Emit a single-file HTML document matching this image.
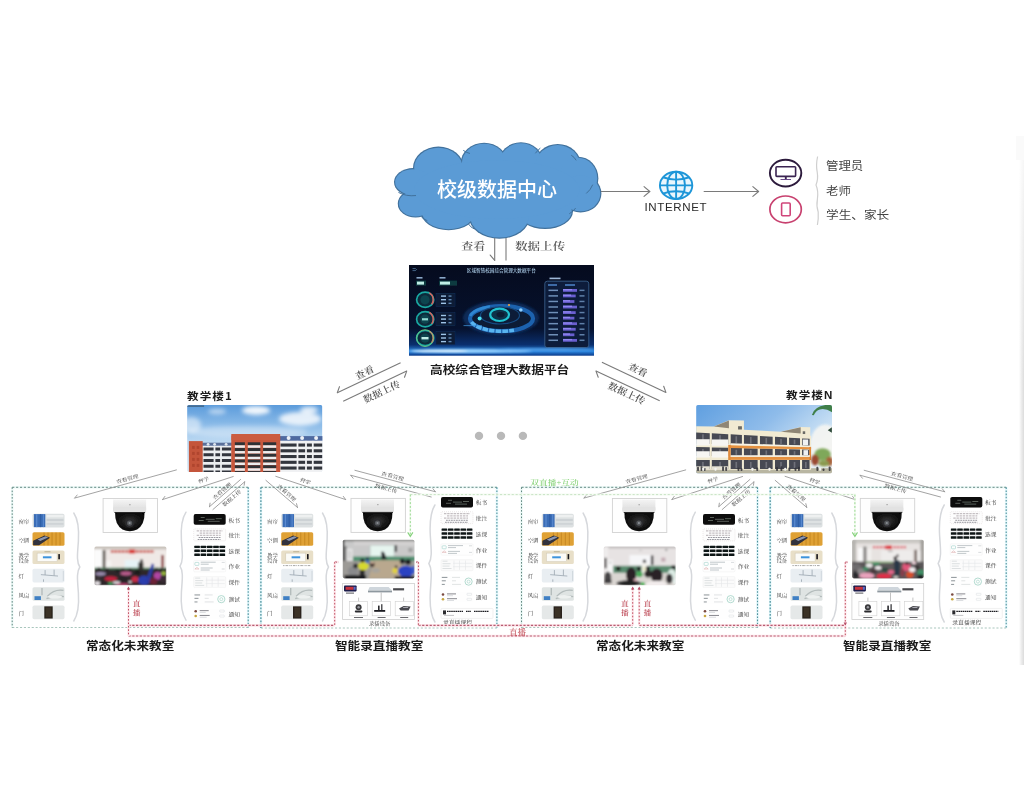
<!DOCTYPE html>
<html lang="zh-CN">
<head>
<meta charset="utf-8">
<title>高校综合管理大数据平台</title>
<style>
html,body{margin:0;padding:0;background:#fff;}
body{width:1024px;height:800px;position:relative;overflow:hidden;font-family:'Liberation Sans','Noto Sans CJK SC',sans-serif;}
#stage{position:absolute;left:0;top:0;width:1024px;height:800px;background:#fff;filter:blur(0.45px);}
svg{position:absolute;left:0;top:0;display:block;}
.t{position:absolute;white-space:nowrap;line-height:1;margin:0;padding:0;transform-origin:0 0;}
</style>
</head>
<body>
<div id="stage">
<svg width="1024" height="800" viewBox="0 0 1024 800">
<defs>
<linearGradient id="sky1" x1="0" y1="0" x2="0" y2="1"><stop offset="0" stop-color="#5b9bdb"/><stop offset="0.3" stop-color="#8bbbe8"/><stop offset="0.55" stop-color="#bcd9f2"/><stop offset="1" stop-color="#dcebf7"/></linearGradient>
<linearGradient id="sky2" x1="0" y1="0" x2="1" y2="0.6"><stop offset="0" stop-color="#5f9fe0"/><stop offset="0.5" stop-color="#8fbcea"/><stop offset="0.85" stop-color="#c9e0f4"/><stop offset="1" stop-color="#e8f0f6"/></linearGradient>
<linearGradient id="dashbg" x1="0" y1="0" x2="0" y2="1"><stop offset="0" stop-color="#050b1e"/><stop offset="0.7" stop-color="#06122e"/><stop offset="0.88" stop-color="#0a2f6e"/><stop offset="0.95" stop-color="#2a86e0"/><stop offset="1" stop-color="#0a3a8a"/></linearGradient>
<radialGradient id="eye" cx="0.5" cy="0.5" r="0.5"><stop offset="0" stop-color="#0a2a4a"/><stop offset="0.3" stop-color="#1fb6c8"/><stop offset="0.45" stop-color="#0e3a66"/><stop offset="0.75" stop-color="#2a7fc0"/><stop offset="1" stop-color="#0a2244" stop-opacity="0"/></radialGradient>
<linearGradient id="camw" x1="0" y1="0" x2="0" y2="1"><stop offset="0" stop-color="#f4f4f4"/><stop offset="1" stop-color="#d8d8d8"/></linearGradient>
<radialGradient id="camb" cx="0.5" cy="0.45" r="0.6"><stop offset="0" stop-color="#3a3a3a"/><stop offset="0.5" stop-color="#161616"/><stop offset="1" stop-color="#050505"/></radialGradient>
<filter id="b5"><feGaussianBlur stdDeviation="0.5"/></filter>
<filter id="b20"><feGaussianBlur stdDeviation="2"/></filter>
<filter id="bz"><feGaussianBlur stdDeviation="9"/></filter>
<filter id="bp" x="-5%" y="-5%" width="110%" height="110%"><feGaussianBlur stdDeviation="10"/></filter>
<filter id="b3"><feGaussianBlur stdDeviation="0.35"/></filter>
<filter id="b6"><feGaussianBlur stdDeviation="0.6"/></filter>
<filter id="b10"><feGaussianBlur stdDeviation="1"/></filter>
</defs>
<linearGradient id="edgeh" x1="0" y1="0" x2="1" y2="0"><stop offset="0" stop-color="#ffffff"/><stop offset="0.5" stop-color="#ececec"/><stop offset="1" stop-color="#dcdcdc"/></linearGradient>
<linearGradient id="edgev" x1="0" y1="0" x2="0" y2="1"><stop offset="0" stop-color="#fff" stop-opacity="0.75"/><stop offset="0.45" stop-color="#fff" stop-opacity="0"/><stop offset="1" stop-color="#fff" stop-opacity="0"/></linearGradient>
<rect x="1019" y="160" width="5" height="505" fill="url(#edgeh)"/><rect x="1019" y="160" width="5" height="505" fill="url(#edgev)"/><rect x="1016" y="136" width="8" height="24" fill="#fafafa"/>
<ellipse cx="438.4" cy="168.09" rx="25.39" ry="21.58" fill="#41719c"/>
<ellipse cx="484.1" cy="163.01" rx="23.36" ry="20.31" fill="#41719c"/>
<ellipse cx="520.92" cy="163.01" rx="22.34" ry="20.82" fill="#41719c"/>
<ellipse cx="557.73" cy="165.55" rx="23.36" ry="21.58" fill="#41719c"/>
<ellipse cx="578.05" cy="178.24" rx="20.31" ry="21.58" fill="#41719c"/>
<ellipse cx="580.59" cy="193.48" rx="20.82" ry="19.04" fill="#41719c"/>
<ellipse cx="545.04" cy="211.25" rx="27.93" ry="17.77" fill="#41719c"/>
<ellipse cx="499.34" cy="216.33" rx="30.47" ry="22.34" fill="#41719c"/>
<ellipse cx="448.55" cy="211.25" rx="27.93" ry="19.04" fill="#41719c"/>
<ellipse cx="415.55" cy="203.63" rx="17.77" ry="13.96" fill="#41719c"/>
<ellipse cx="413.01" cy="182.05" rx="19.04" ry="13.96" fill="#41719c"/>
<ellipse cx="496.8" cy="189.67" rx="83.79" ry="30.47" fill="#41719c"/>
<ellipse cx="438.4" cy="168.09" rx="24.24" ry="20.43" fill="#5b9bd5"/>
<ellipse cx="484.1" cy="163.01" rx="22.21" ry="19.16" fill="#5b9bd5"/>
<ellipse cx="520.92" cy="163.01" rx="21.19" ry="19.67" fill="#5b9bd5"/>
<ellipse cx="557.73" cy="165.55" rx="22.21" ry="20.43" fill="#5b9bd5"/>
<ellipse cx="578.05" cy="178.24" rx="19.16" ry="20.43" fill="#5b9bd5"/>
<ellipse cx="580.59" cy="193.48" rx="19.67" ry="17.89" fill="#5b9bd5"/>
<ellipse cx="545.04" cy="211.25" rx="26.78" ry="16.62" fill="#5b9bd5"/>
<ellipse cx="499.34" cy="216.33" rx="29.32" ry="21.19" fill="#5b9bd5"/>
<ellipse cx="448.55" cy="211.25" rx="26.78" ry="17.89" fill="#5b9bd5"/>
<ellipse cx="415.55" cy="203.63" rx="16.62" ry="12.81" fill="#5b9bd5"/>
<ellipse cx="413.01" cy="182.05" rx="17.89" ry="12.81" fill="#5b9bd5"/>
<ellipse cx="496.8" cy="189.67" rx="82.64" ry="29.32" fill="#5b9bd5"/>
<g fill="none" stroke="#41719c" stroke-width="1" stroke-linecap="round"><path d="M398.8 192.6 Q406 196.6 415.6 195.6"/><path d="M463.6 150.6 Q466 152.6 469.6 153.4"/><path d="M421.4 216.8 Q423.6 219.4 427 220.6"/><path d="M468.8 224.4 Q470.6 227.4 474 228.8"/><path d="M569.6 213.6 Q573 211.6 575.4 208.4"/><path d="M586.6 193.2 Q590.6 190 592.6 185"/><path d="M540 148.4 Q537.4 150.6 535.6 153"/><path d="M576 160 Q574.4 157 571.6 155.4"/></g>
<line x1="494.7" y1="238" x2="494.7" y2="260.4" stroke="#7a7a7a" stroke-width="1.1" />
<line x1="494.7" y1="260.4" x2="490.2" y2="255.04" stroke="#7a7a7a" stroke-width="1.1" stroke-linecap="round"/>
<line x1="506" y1="238" x2="506" y2="260.4" stroke="#7a7a7a" stroke-width="1.1" />
<text x="473.3" y="246.1" font-family="'Liberation Serif','Noto Serif CJK SC',serif" font-size="10.7" fill="#5a5a5a" text-anchor="middle" dominant-baseline="central" font-weight="600"  textLength="24" lengthAdjust="spacingAndGlyphs">查看</text>
<text x="540.1" y="246.1" font-family="'Liberation Serif','Noto Serif CJK SC',serif" font-size="10.7" fill="#5a5a5a" text-anchor="middle" dominant-baseline="central" font-weight="600"  textLength="50.4" lengthAdjust="spacingAndGlyphs">数据上传</text>
<line x1="601" y1="191.5" x2="649.8" y2="191.5" stroke="#7a7a7a" stroke-width="1.1" />
<line x1="649.8" y1="191.5" x2="644.05" y2="196.32" stroke="#7a7a7a" stroke-width="1.1" stroke-linecap="round"/>
<line x1="649.8" y1="191.5" x2="644.05" y2="186.68" stroke="#7a7a7a" stroke-width="1.1" stroke-linecap="round"/>
<line x1="703.7" y1="191.5" x2="758.6" y2="191.5" stroke="#7a7a7a" stroke-width="1.1" />
<line x1="758.6" y1="191.5" x2="752.85" y2="196.32" stroke="#7a7a7a" stroke-width="1.1" stroke-linecap="round"/>
<line x1="758.6" y1="191.5" x2="752.85" y2="186.68" stroke="#7a7a7a" stroke-width="1.1" stroke-linecap="round"/>
<g fill="none" stroke="#1e96d8" stroke-width="1.9"><ellipse cx="676.1" cy="185.4" rx="16.2" ry="13.6" fill="#eaf6fd"/><ellipse cx="676.1" cy="185.4" rx="8.91" ry="13.6"/><line x1="676.1" y1="171.8" x2="676.1" y2="199.0"/><line x1="659.9" y1="185.4" x2="692.3000000000001" y2="185.4"/><path d="M662.82 177.24 Q676.1 182.00 689.38 177.24"/><path d="M662.82 193.56 Q676.1 188.80 689.38 193.56"/></g>
<g fill="none" stroke="#2c1a3c" stroke-width="1.9"><ellipse cx="785.6" cy="173.1" rx="15.7" ry="13.4"/><rect x="776" y="166.8" width="19.6" height="9.6" rx="0.8" stroke="#3b2452" stroke-width="1.6"/><line x1="785.8" y1="176.4" x2="785.8" y2="179.3" stroke="#3b2452"/><line x1="780.5" y1="179.5" x2="791" y2="179.5" stroke="#6a4a8a" stroke-width="1"/></g>
<g fill="none" stroke="#c8416f" stroke-width="1.7"><ellipse cx="785.6" cy="209.4" rx="15.7" ry="13.4"/><rect x="781.6" y="203" width="8.6" height="12.8" rx="1" stroke="#d0457a" stroke-width="1.6"/></g>
<path d="M817.6 156.5 Q815.8 165 817.2 172 Q818.4 179 816 185 Q818.6 191 817.4 199 Q816.2 206 818.2 212 Q818.6 219 817.4 225" fill="none" stroke="#cfcfcf" stroke-width="1.2"/>
<g>
<rect x="409" y="265" width="185" height="90.7" fill="url(#dashbg)"/>
<text x="501.3" y="270.5" font-family="'Liberation Sans','Noto Sans CJK SC',sans-serif" font-size="4.6" fill="#bfe3ff" text-anchor="middle" dominant-baseline="central" font-weight="normal" >区域智慧校园综合管理大数据平台</text>
<path d="M412.5 268.6 h3 l1 1 l-1 1 h-3" fill="none" stroke="#7fb8e8" stroke-width="0.5"/>
<g filter="url(#b3)">
<rect x="416" y="280.6" width="10" height="5" fill="#0c3a3f"/><rect x="417" y="281.6" width="7" height="3" fill="#bfeee6"/>
<rect x="439" y="280.6" width="18" height="5" fill="#0c3a3f"/><rect x="440" y="281.6" width="10" height="3" fill="#bfeee6"/>
<rect x="416.5" y="277" width="6" height="1.6" fill="#8aa8c8"/><rect x="439.5" y="277" width="6" height="1.6" fill="#8aa8c8"/>
<ellipse cx="425.2" cy="299.8" rx="8.6" ry="7.6" fill="#0a2a3a" stroke="#1aa8a2" stroke-width="1.7"/>
<path d="M429.43 292.90 A8.2 8.2 0 0 1 431.77 304.43" fill="none" stroke="#e0605a" stroke-width="1.4"/>
<circle cx="425" cy="299.8" r="4.6" fill="#0e4550"/>
<rect x="436" y="293.3" width="19" height="13" fill="#0a1a34" stroke="#16335c" stroke-width="0.5"/>
<rect x="441" y="295.40" width="5" height="1.4" fill="#9fc4e6"/><rect x="448.5" y="295.40" width="3" height="1.4" fill="#5f86b0"/>
<rect x="441" y="299.00" width="5" height="1.4" fill="#9fc4e6"/><rect x="448.5" y="299.00" width="3" height="1.4" fill="#5f86b0"/>
<rect x="441" y="302.60" width="5" height="1.4" fill="#9fc4e6"/><rect x="448.5" y="302.60" width="3" height="1.4" fill="#5f86b0"/>
<ellipse cx="425.2" cy="319.2" rx="8.6" ry="7.6" fill="#0a2a3a" stroke="#1aa8a2" stroke-width="1.7"/>
<path d="M429.43 312.30 A8.2 8.2 0 0 1 431.77 323.83" fill="none" stroke="#e0605a" stroke-width="1.4"/>
<circle cx="425" cy="319.2" r="4.6" fill="#0e4550"/>
<rect x="436" y="312.7" width="19" height="13" fill="#0a1a34" stroke="#16335c" stroke-width="0.5"/>
<rect x="441" y="314.80" width="5" height="1.4" fill="#9fc4e6"/><rect x="448.5" y="314.80" width="3" height="1.4" fill="#5f86b0"/>
<rect x="441" y="318.40" width="5" height="1.4" fill="#9fc4e6"/><rect x="448.5" y="318.40" width="3" height="1.4" fill="#5f86b0"/>
<rect x="441" y="322.00" width="5" height="1.4" fill="#9fc4e6"/><rect x="448.5" y="322.00" width="3" height="1.4" fill="#5f86b0"/>
<ellipse cx="425.2" cy="338.1" rx="8.6" ry="7.6" fill="#0a2a3a" stroke="#1aa8a2" stroke-width="1.7"/>
<path d="M429.43 331.20 A8.2 8.2 0 0 1 431.77 342.73" fill="none" stroke="#e0605a" stroke-width="1.4"/>
<circle cx="425" cy="338.1" r="4.6" fill="#0e4550"/>
<rect x="436" y="331.6" width="19" height="13" fill="#0a1a34" stroke="#16335c" stroke-width="0.5"/>
<rect x="441" y="333.70" width="5" height="1.4" fill="#9fc4e6"/><rect x="448.5" y="333.70" width="3" height="1.4" fill="#5f86b0"/>
<rect x="441" y="337.30" width="5" height="1.4" fill="#9fc4e6"/><rect x="448.5" y="337.30" width="3" height="1.4" fill="#5f86b0"/>
<rect x="441" y="340.90" width="5" height="1.4" fill="#9fc4e6"/><rect x="448.5" y="340.90" width="3" height="1.4" fill="#5f86b0"/>
<circle cx="425" cy="338.1" r="8.4" fill="none" stroke="#7fd07a" stroke-width="0.8"/>
<rect x="421.5" y="337" width="7" height="2.4" fill="#bfeee6"/>
<rect x="422" y="318.2" width="6" height="2.2" fill="#8fd8d0"/>
</g>
<g filter="url(#b10)">
<ellipse cx="501" cy="318" rx="38" ry="17" fill="#0b2d5c" opacity="0.9"/>
</g>
<g filter="url(#b6)">
<ellipse cx="501.5" cy="318.6" rx="31.5" ry="12.6" fill="#071a36" stroke="#1d62ae" stroke-width="4.2"/>
<path d="M471.5 322 A31.5 12.6 0 0 0 514 330.2" fill="none" stroke="#58b4f0" stroke-width="3.6" stroke-dasharray="5.4 1.2"/>
<path d="M470.2 316 A31.5 12.6 0 0 1 490 306.6" fill="none" stroke="#2f86d0" stroke-width="2.6"/>
<ellipse cx="500" cy="315.4" rx="19.5" ry="8.6" fill="#081c38" stroke="#164a80" stroke-width="1.2"/>
<ellipse cx="499.6" cy="314.8" rx="9.4" ry="6.2" fill="#0a3048" stroke="#22c2d0" stroke-width="2.2"/>
<ellipse cx="500.5" cy="314.6" rx="4" ry="2.6" fill="#0a1a30"/>
<circle cx="479.6" cy="318.4" r="2" fill="#4fe0ee"/><circle cx="520.8" cy="310" r="1.8" fill="#8fd0ff"/><circle cx="509" cy="305" r="1.1" fill="#f0a040"/>
<path d="M463.5 325.6 H482" stroke="#3f9ae0" stroke-width="0.7"/>
</g>
<g filter="url(#b3)">
<rect x="544.8" y="281.2" width="44" height="66.4" rx="2.5" fill="#0a1c3a" stroke="#3a5f8a" stroke-width="0.9"/>
<rect x="549.5" y="277.6" width="11" height="1.6" fill="#9fb8d8"/>
<rect x="548" y="284.2" width="9" height="1.6" fill="#4d7fc0"/><rect x="565" y="284.2" width="10" height="1.6" fill="#4d7fc0"/>
<rect x="548.5" y="289.60" width="9.5" height="1.5" fill="#6f8fb8"/>
<rect x="563" y="289.00" width="14.00" height="2.8" fill="#6a5fd0"/>
<rect x="563" y="289.00" width="9.00" height="1.4" fill="#8f86f0"/>
<rect x="579.5" y="289.60" width="5" height="1.5" fill="#5f7fa8"/>
<rect x="548.5" y="295.15" width="9.5" height="1.5" fill="#6f8fb8"/>
<rect x="563" y="294.55" width="12.70" height="2.8" fill="#6a5fd0"/>
<rect x="563" y="294.55" width="8.00" height="1.4" fill="#8f86f0"/>
<rect x="579.5" y="295.15" width="5" height="1.5" fill="#5f7fa8"/>
<rect x="548.5" y="300.70" width="9.5" height="1.5" fill="#6f8fb8"/>
<rect x="563" y="300.10" width="11.40" height="2.8" fill="#6a5fd0"/>
<rect x="563" y="300.10" width="7.00" height="1.4" fill="#8f86f0"/>
<rect x="579.5" y="300.70" width="5" height="1.5" fill="#5f7fa8"/>
<rect x="548.5" y="306.25" width="9.5" height="1.5" fill="#6f8fb8"/>
<rect x="563" y="305.65" width="14.00" height="2.8" fill="#6a5fd0"/>
<rect x="563" y="305.65" width="9.00" height="1.4" fill="#8f86f0"/>
<rect x="579.5" y="306.25" width="5" height="1.5" fill="#5f7fa8"/>
<rect x="548.5" y="311.80" width="9.5" height="1.5" fill="#6f8fb8"/>
<rect x="563" y="311.20" width="12.70" height="2.8" fill="#6a5fd0"/>
<rect x="563" y="311.20" width="8.00" height="1.4" fill="#8f86f0"/>
<rect x="579.5" y="311.80" width="5" height="1.5" fill="#5f7fa8"/>
<rect x="548.5" y="317.35" width="9.5" height="1.5" fill="#6f8fb8"/>
<rect x="563" y="316.75" width="11.40" height="2.8" fill="#6a5fd0"/>
<rect x="563" y="316.75" width="7.00" height="1.4" fill="#8f86f0"/>
<rect x="579.5" y="317.35" width="5" height="1.5" fill="#5f7fa8"/>
<rect x="548.5" y="322.90" width="9.5" height="1.5" fill="#6f8fb8"/>
<rect x="563" y="322.30" width="14.00" height="2.8" fill="#6a5fd0"/>
<rect x="563" y="322.30" width="9.00" height="1.4" fill="#8f86f0"/>
<rect x="579.5" y="322.90" width="5" height="1.5" fill="#5f7fa8"/>
<rect x="548.5" y="328.45" width="9.5" height="1.5" fill="#6f8fb8"/>
<rect x="563" y="327.85" width="12.70" height="2.8" fill="#6a5fd0"/>
<rect x="563" y="327.85" width="8.00" height="1.4" fill="#8f86f0"/>
<rect x="579.5" y="328.45" width="5" height="1.5" fill="#5f7fa8"/>
<rect x="548.5" y="334.00" width="9.5" height="1.5" fill="#6f8fb8"/>
<rect x="563" y="333.40" width="11.40" height="2.8" fill="#6a5fd0"/>
<rect x="563" y="333.40" width="7.00" height="1.4" fill="#8f86f0"/>
<rect x="579.5" y="334.00" width="5" height="1.5" fill="#5f7fa8"/>
<rect x="548.5" y="339.55" width="9.5" height="1.5" fill="#6f8fb8"/>
<rect x="563" y="338.95" width="14.00" height="2.8" fill="#6a5fd0"/>
<rect x="563" y="338.95" width="9.00" height="1.4" fill="#8f86f0"/>
<rect x="579.5" y="339.55" width="5" height="1.5" fill="#5f7fa8"/>
</g>
<g filter="url(#b10)"><ellipse cx="470" cy="351" rx="62" ry="1.9" fill="#9ad4ff" opacity="0.95"/><ellipse cx="545" cy="349.6" rx="50" ry="1.4" fill="#5aa8f0" opacity="0.8"/><ellipse cx="440" cy="351" rx="28" ry="1.3" fill="#e8f6ff" opacity="0.9"/></g>
</g>
<line x1="400.6" y1="362.7" x2="337.3" y2="392.8" stroke="#7a7a7a" stroke-width="1.1" />
<line x1="337.3" y1="392.8" x2="339.48" y2="386.68" stroke="#7a7a7a" stroke-width="1.1" stroke-linecap="round"/>
<line x1="343.2" y1="401.3" x2="406.7" y2="371.1" stroke="#7a7a7a" stroke-width="1.1" />
<line x1="406.7" y1="371.1" x2="404.52" y2="377.22" stroke="#7a7a7a" stroke-width="1.1" stroke-linecap="round"/>
<text x="364.8" y="372.8" font-family="'Liberation Serif','Noto Serif CJK SC',serif" font-size="9.3" fill="#505050" text-anchor="middle" dominant-baseline="central" font-weight="600" transform="rotate(-25.4 364.8 372.8)"  textLength="19.4" lengthAdjust="spacingAndGlyphs">查看</text>
<text x="381.8" y="392" font-family="'Liberation Serif','Noto Serif CJK SC',serif" font-size="9.3" fill="#505050" text-anchor="middle" dominant-baseline="central" font-weight="600" transform="rotate(-25.4 381.8 392)"  textLength="39.5" lengthAdjust="spacingAndGlyphs">数据上传</text>
<line x1="601.9" y1="362.3" x2="665.9" y2="392.4" stroke="#7a7a7a" stroke-width="1.1" />
<line x1="665.9" y1="392.4" x2="663.7" y2="386.28" stroke="#7a7a7a" stroke-width="1.1" stroke-linecap="round"/>
<line x1="659.7" y1="400.7" x2="596" y2="371.1" stroke="#7a7a7a" stroke-width="1.1" />
<line x1="596" y1="371.1" x2="598.23" y2="377.21" stroke="#7a7a7a" stroke-width="1.1" stroke-linecap="round"/>
<text x="637.7" y="370.2" font-family="'Liberation Serif','Noto Serif CJK SC',serif" font-size="9.3" fill="#505050" text-anchor="middle" dominant-baseline="central" font-weight="600" transform="rotate(25.2 637.7 370.2)"  textLength="19.4" lengthAdjust="spacingAndGlyphs">查看</text>
<text x="626.5" y="393.6" font-family="'Liberation Serif','Noto Serif CJK SC',serif" font-size="9.3" fill="#505050" text-anchor="middle" dominant-baseline="central" font-weight="600" transform="rotate(25.2 626.5 393.6)"  textLength="39.5" lengthAdjust="spacingAndGlyphs">数据上传</text>
<circle cx="479" cy="435.9" r="4.2" fill="#b9b9b9" filter="url(#b3)"/>
<circle cx="501" cy="435.9" r="4.2" fill="#b9b9b9" filter="url(#b3)"/>
<circle cx="522.9" cy="435.9" r="4.2" fill="#b9b9b9" filter="url(#b3)"/>
<g transform="translate(187.1 404.9)"><clipPath id="cb1"><rect width="135.3" height="67.2" rx="1.8"/></clipPath><g clip-path="url(#cb1)">
<rect width="135.3" height="67.2" fill="url(#sky1)"/>
<g filter="url(#b20)" fill="#fff"><ellipse cx="69" cy="5.5" rx="14" ry="4.5" opacity="0.9"/><ellipse cx="113" cy="14" rx="21" ry="7" opacity="0.8"/><ellipse cx="122" cy="5" rx="9" ry="3.5" opacity="0.8"/><ellipse cx="30" cy="6.5" rx="9" ry="3" opacity="0.5"/><ellipse cx="4" cy="20" rx="10" ry="8" opacity="0.5"/><ellipse cx="60" cy="27" rx="60" ry="6" opacity="0.35"/></g>
<rect x="0" y="0.4" width="17" height="1.6" fill="#2a3a4a" opacity="0.55" filter="url(#b6)"/>
<g filter="url(#b5)">
<rect x="15" y="40.5" width="30" height="27" fill="#eceef0"/>
<rect x="15" y="37.8" width="30" height="3" fill="#5a6f9a"/>
<circle cx="21" cy="39.4" r="1.4" fill="#dfe6ee"/>
<circle cx="27.5" cy="39.4" r="1.4" fill="#dfe6ee"/>
<circle cx="39" cy="39.4" r="1.4" fill="#dfe6ee"/>
<rect x="16.4" y="42.60" width="28" height="3" fill="#33353c"/>
<rect x="16.4" y="48.35" width="28" height="3" fill="#33353c"/>
<rect x="16.4" y="54.10" width="28" height="3" fill="#33353c"/>
<rect x="16.4" y="59.85" width="28" height="3" fill="#33353c"/>
<rect x="16.4" y="65.60" width="28" height="3" fill="#33353c"/>
<rect x="26.5" y="41" width="1.8" height="26.5" fill="#eceef0"/>
<rect x="33" y="41" width="1.8" height="26.5" fill="#eceef0"/>
<rect x="92" y="35" width="44" height="33" fill="#f0f1f3"/>
<rect x="92" y="31.2" width="44" height="4.6" fill="#4f6aa0"/>
<circle cx="101.5" cy="33" r="2" fill="#edf1f6"/>
<circle cx="115" cy="33" r="2" fill="#edf1f6"/>
<circle cx="129" cy="33" r="2" fill="#edf1f6"/>
<rect x="93.4" y="38.60" width="42" height="3.1" fill="#33353c"/>
<rect x="93.4" y="44.35" width="42" height="3.1" fill="#33353c"/>
<rect x="93.4" y="50.10" width="42" height="3.1" fill="#33353c"/>
<rect x="93.4" y="55.85" width="42" height="3.1" fill="#33353c"/>
<rect x="93.4" y="61.60" width="42" height="3.1" fill="#33353c"/>
<rect x="93.4" y="67.35" width="42" height="3.1" fill="#33353c"/>
<rect x="109.5" y="36" width="1.8" height="31.5" fill="#f0f1f3"/>
<rect x="118" y="36" width="1.8" height="31.5" fill="#f0f1f3"/>
<rect x="124.8" y="36" width="1.8" height="31.5" fill="#f0f1f3"/>
<rect x="1.8" y="36.2" width="13.8" height="31.5" fill="#c4553b"/>
<rect x="5" y="41" width="2.6" height="3" fill="#b0452f"/><rect x="9.6" y="41" width="2.6" height="3" fill="#b0452f"/>
<rect x="5" y="47" width="2.6" height="3" fill="#b0452f"/><rect x="9.6" y="47" width="2.6" height="3" fill="#b0452f"/>
<rect x="5" y="53" width="2.6" height="3" fill="#b0452f"/><rect x="9.6" y="53" width="2.6" height="3" fill="#b0452f"/>
<rect x="5" y="59" width="2.6" height="3" fill="#b0452f"/><rect x="9.6" y="59" width="2.6" height="3" fill="#b0452f"/>
<rect x="44.4" y="29.2" width="48.6" height="38.6" fill="#c8583d"/>
<rect x="47.4" y="37.40" width="42" height="3" fill="#2e3036"/>
<rect x="47.4" y="40.40" width="42" height="2.5" fill="#ecedee"/>
<rect x="47.4" y="43.15" width="42" height="3" fill="#2e3036"/>
<rect x="47.4" y="46.15" width="42" height="2.5" fill="#ecedee"/>
<rect x="47.4" y="48.90" width="42" height="3" fill="#2e3036"/>
<rect x="47.4" y="51.90" width="42" height="2.5" fill="#ecedee"/>
<rect x="47.4" y="54.65" width="42" height="3" fill="#2e3036"/>
<rect x="47.4" y="57.65" width="42" height="2.5" fill="#ecedee"/>
<rect x="47.4" y="60.40" width="42" height="3" fill="#2e3036"/>
<rect x="47.4" y="63.40" width="42" height="2.5" fill="#ecedee"/>
<rect x="47.4" y="66.15" width="42" height="3" fill="#2e3036"/>
<rect x="47.4" y="69.15" width="42" height="2.5" fill="#ecedee"/>
<rect x="44.4" y="31" width="3.2" height="37" fill="#c8583d"/>
<rect x="57.8" y="31" width="2.9" height="37" fill="#c8583d"/>
<rect x="73.2" y="31" width="2.8" height="37" fill="#c8583d"/>
<rect x="89.3" y="31" width="3.7" height="37" fill="#c8583d"/>
<rect x="44.4" y="29.2" width="48.6" height="6" fill="#cb5c40"/>
</g></g></g>
<g transform="translate(696.1 404.9)"><clipPath id="cbn"><rect width="135.9" height="68.6" rx="1.8"/></clipPath><g clip-path="url(#cbn)">
<rect width="135.9" height="68.6" fill="url(#sky2)"/>
<g filter="url(#b5)"><g transform="scale(0.13672) translate(-15 -37)">
<ellipse cx="960" cy="330" rx="110" ry="150" fill="#f6f6f2" opacity="0.9" filter="url(#bz)"/>
<rect x="0" y="500" width="1010" height="40" fill="#b9b6a2"/>
<polygon points="15,193 145,195 255,150 365,152 365,218 635,234 780,198 850,200 850,262 856,264 856,512 15,512" fill="#f1ead2"/>
<polygon points="145,195 255,152 255,207" fill="#8f8674"/>
<polygon points="635,234 780,200 780,246" fill="#8f8674"/>
<rect x="322" y="193" width="28" height="24" fill="#6a6a66"/><rect x="795" y="230" width="18" height="20" fill="#6a6a66"/>
<polygon points="15,238.0 115,243.7 115,323.6 15,322.0" fill="#474952"/>
<rect x="59.0" y="252.0" width="12" height="62.0" fill="#8a8c96" opacity="0.6"/>
<rect x="15" y="288.0" width="100" height="46" fill="#f6f5f2"/>
<polygon points="15,345.0 115,347.4 115,410.0 15,410.0" fill="#474952"/>
<rect x="59.0" y="359.0" width="12" height="43.0" fill="#8a8c96" opacity="0.6"/>
<rect x="15" y="376.0" width="100" height="46" fill="#f6f5f2"/>
<polygon points="15,440.0 115,440.0 115,506.0 15,506.0" fill="#474952"/>
<rect x="59.0" y="454.0" width="12" height="44.0" fill="#8a8c96" opacity="0.6"/>
<rect x="15" y="486" width="100" height="24" fill="#e6e2d4"/>
<polygon points="130,244.5 250,251.3 250,325.7 130,323.8" fill="#474952"/>
<rect x="184.0" y="258.5" width="12" height="57.3" fill="#8a8c96" opacity="0.6"/>
<rect x="130" y="289.8" width="120" height="46" fill="#f6f5f2"/>
<polygon points="130,347.8 250,350.7 250,410.0 130,410.0" fill="#474952"/>
<rect x="184.0" y="361.8" width="12" height="40.2" fill="#8a8c96" opacity="0.6"/>
<rect x="130" y="376.0" width="120" height="46" fill="#f6f5f2"/>
<polygon points="130,440.0 250,440.0 250,506.0 130,506.0" fill="#474952"/>
<rect x="184.0" y="454.0" width="12" height="44.0" fill="#8a8c96" opacity="0.6"/>
<rect x="130" y="486" width="120" height="24" fill="#e6e2d4"/>
<polygon points="268,252.3 350,257.0 350,327.2 268,326.0" fill="#474952"/>
<rect x="303.0" y="266.3" width="12" height="51.6" fill="#8a8c96" opacity="0.6"/>
<polygon points="268,351.1 350,353.1 350,410.0 268,410.0" fill="#474952"/>
<rect x="303.0" y="365.1" width="12" height="36.9" fill="#8a8c96" opacity="0.6"/>
<polygon points="268,440.0 350,440.0 350,506.0 268,506.0" fill="#474952"/>
<rect x="303.0" y="454.0" width="12" height="44.0" fill="#8a8c96" opacity="0.6"/>
<polygon points="365,257.8 465,263.5 465,329.0 365,327.5" fill="#474952"/>
<rect x="409.0" y="271.8" width="12" height="47.7" fill="#8a8c96" opacity="0.6"/>
<polygon points="365,353.4 465,355.8 465,410.0 365,410.0" fill="#474952"/>
<rect x="409.0" y="367.4" width="12" height="34.6" fill="#8a8c96" opacity="0.6"/>
<polygon points="365,440.0 465,440.0 465,506.0 365,506.0" fill="#474952"/>
<rect x="409.0" y="454.0" width="12" height="44.0" fill="#8a8c96" opacity="0.6"/>
<polygon points="482,264.4 575,269.7 575,330.8 482,329.3" fill="#474952"/>
<rect x="522.5" y="278.4" width="12" height="42.9" fill="#8a8c96" opacity="0.6"/>
<polygon points="482,356.3 575,358.5 575,410.0 482,410.0" fill="#474952"/>
<rect x="522.5" y="370.3" width="12" height="31.7" fill="#8a8c96" opacity="0.6"/>
<polygon points="482,440.0 575,440.0 575,506.0 482,506.0" fill="#474952"/>
<rect x="522.5" y="454.0" width="12" height="44.0" fill="#8a8c96" opacity="0.6"/>
<polygon points="592,270.7 680,275.7 680,332.4 592,331.0" fill="#474952"/>
<rect x="630.0" y="284.7" width="12" height="38.4" fill="#8a8c96" opacity="0.6"/>
<polygon points="592,358.9 680,361.0 680,410.0 592,410.0" fill="#474952"/>
<rect x="630.0" y="372.9" width="12" height="29.1" fill="#8a8c96" opacity="0.6"/>
<polygon points="592,440.0 680,440.0 680,506.0 592,506.0" fill="#474952"/>
<rect x="630.0" y="454.0" width="12" height="44.0" fill="#8a8c96" opacity="0.6"/>
<polygon points="695,276.5 775,281.0 775,333.9 695,332.7" fill="#474952"/>
<rect x="729.0" y="290.5" width="12" height="34.1" fill="#8a8c96" opacity="0.6"/>
<polygon points="695,361.4 775,363.3 775,410.0 695,410.0" fill="#474952"/>
<rect x="729.0" y="375.4" width="12" height="26.6" fill="#8a8c96" opacity="0.6"/>
<polygon points="695,440.0 775,440.0 775,506.0 695,506.0" fill="#474952"/>
<rect x="729.0" y="454.0" width="12" height="44.0" fill="#8a8c96" opacity="0.6"/>
<polygon points="790,281.9 845,285.0 845,335.0 790,334.1" fill="#474952"/>
<rect x="811.5" y="295.9" width="12" height="30.3" fill="#8a8c96" opacity="0.6"/>
<polygon points="790,363.7 845,365.0 845,410.0 790,410.0" fill="#474952"/>
<rect x="811.5" y="377.7" width="12" height="24.3" fill="#8a8c96" opacity="0.6"/>
<polygon points="790,440.0 845,440.0 845,506.0 790,506.0" fill="#474952"/>
<rect x="811.5" y="454.0" width="12" height="44.0" fill="#8a8c96" opacity="0.6"/>
<rect x="795" y="290" width="40" height="42" fill="#f0f2f4"/><rect x="800" y="368" width="34" height="36" fill="#eef0f2"/>
<polygon points="255,333 856,346 856,362 255,353" fill="#e5913f"/>
<rect x="255" y="417" width="601" height="22" fill="#e5913f"/>
<rect x="250" y="330" width="18" height="110" fill="#e28a3a"/><rect x="842" y="344" width="14" height="96" fill="#e28a3a"/>
<polygon points="268,318 850,335 850,344 268,330" fill="#f6f2e6"/><rect x="268" y="405" width="580" height="11" fill="#f6f2e6"/>
<rect x="22" y="490" width="14" height="30" rx="5" fill="#33333a" opacity="0.85"/>
<rect x="48" y="486" width="14" height="34" rx="5" fill="#33333a" opacity="0.85"/>
<rect x="70" y="498" width="14" height="22" rx="5" fill="#33333a" opacity="0.85"/>
<rect x="205" y="486" width="14" height="34" rx="5" fill="#33333a" opacity="0.85"/>
<rect x="228" y="492" width="14" height="28" rx="5" fill="#33333a" opacity="0.85"/>
<rect x="318" y="496" width="14" height="24" rx="5" fill="#33333a" opacity="0.85"/>
<rect x="340" y="500" width="14" height="20" rx="5" fill="#33333a" opacity="0.85"/>
<rect x="455" y="494" width="14" height="26" rx="5" fill="#33333a" opacity="0.85"/>
<rect x="600" y="490" width="14" height="30" rx="5" fill="#33333a" opacity="0.85"/>
<rect x="632" y="486" width="14" height="34" rx="5" fill="#33333a" opacity="0.85"/>
<rect x="690" y="494" width="14" height="26" rx="5" fill="#33333a" opacity="0.85"/>
<rect x="735" y="496" width="14" height="24" rx="5" fill="#33333a" opacity="0.85"/>
<rect x="760" y="490" width="14" height="30" rx="5" fill="#33333a" opacity="0.85"/>
<rect x="895" y="490" width="14" height="30" rx="5" fill="#33333a" opacity="0.85"/>
<rect x="985" y="488" width="14" height="32" rx="5" fill="#33333a" opacity="0.85"/>
<rect x="940" y="502" width="14" height="18" rx="5" fill="#33333a" opacity="0.85"/>
<rect x="60" y="496" width="14" height="22" rx="5" fill="#f4f4f2"/>
<rect x="150" y="496" width="14" height="22" rx="5" fill="#f4f4f2"/>
<rect x="420" y="496" width="14" height="22" rx="5" fill="#f4f4f2"/>
<rect x="545" y="496" width="14" height="22" rx="5" fill="#f4f4f2"/>
<rect x="660" y="496" width="14" height="22" rx="5" fill="#f4f4f2"/>
<rect x="915" y="496" width="14" height="22" rx="5" fill="#f4f4f2"/>
<g filter="url(#bz)"><ellipse cx="940" cy="400" rx="60" ry="46" fill="#7fa85a"/><ellipse cx="885" cy="440" rx="28" ry="40" fill="#9a4a30"/><ellipse cx="990" cy="450" rx="26" ry="34" fill="#a8603a"/><ellipse cx="950" cy="465" rx="40" ry="22" fill="#8a9a50"/></g>
<path d="M862 110 Q880 50 960 38 L1010 36 L1010 90 Q960 60 920 70 Q890 80 876 112 Z" fill="#3f7f4a"/><path d="M978 222 l30 -22 v40 z" fill="#2f4a3a"/>
</g></g></g></g>
<path d="M248.2 487.3 H12.2" fill="none" stroke="#eefaf8" stroke-width="2.4"/>
<path d="M12.2 487.3 V627.5" fill="none" stroke="#eefaf8" stroke-width="2.6"/>
<path d="M248.2 487.3 V627.5" fill="none" stroke="#e6f8fc" stroke-width="2.6"/>
<path d="M12.2 487.3 H248.2" fill="none" stroke="#5f857e" stroke-width="0.95" stroke-dasharray="2.1 1.8"/>
<path d="M12.2 627.5 H248.2" fill="none" stroke="#a9c6bd" stroke-width="1" stroke-dasharray="2.1 1.8"/>
<path d="M12.2 487.3 V627.5" fill="none" stroke="#5f857e" stroke-width="1" stroke-dasharray="1.6 1.65"/>
<path d="M248.2 487.3 V627.5" fill="none" stroke="#4f929c" stroke-width="1.1" stroke-dasharray="1.6 1.55"/>
<g transform="translate(32.5 513.8)" filter="url(#b3)"><rect width="32" height="13.6" rx="1.6" fill="#dde1e2"/><rect x="1.4" y="0.3" width="11.4" height="13.0" fill="#3b6db6"/><rect x="3.6" y="0.3" width="1.2" height="13.0" fill="#5b8ad0"/><rect x="7.4" y="0.3" width="1.2" height="13.0" fill="#2f5ea6"/><rect x="10.4" y="0.3" width="1" height="13.0" fill="#5b8ad0"/><rect x="14" y="1.2" width="17" height="2.4" fill="#eef0f0"/><rect x="14" y="5.4" width="17" height="1.6" fill="#c9cfd1"/><rect x="14" y="9.2" width="17" height="1.8" fill="#cfd4d6"/></g>
<g transform="translate(32.5 532.15)" filter="url(#b3)"><rect width="32" height="13.6" rx="1.6" fill="#dfa135"/><rect x="11" y="0.5" width="1.1" height="12.6" fill="#c98a25"/><rect x="15" y="0.5" width="1.1" height="12.6" fill="#c98a25"/><rect x="19" y="0.5" width="1.1" height="12.6" fill="#c98a25"/><rect x="23" y="0.5" width="1.1" height="12.6" fill="#c98a25"/><rect x="27" y="0.5" width="1.1" height="12.6" fill="#c98a25"/><polygon points="0.6,8.6 12,3.4 17.6,5.6 6.6,13 0.6,13" fill="#30303c"/><polygon points="5,7.4 13,4.2 15.6,5.4 7.8,8.8" fill="#8a96b0"/></g>
<g transform="translate(32.5 550.5)" filter="url(#b3)"><rect width="32" height="13.6" rx="1.6" fill="#e8dfc8"/><rect x="4.6" y="2.6" width="20" height="8.6" fill="#fbfbf8" stroke="#cfc6ae" stroke-width="0.5"/><rect x="10.4" y="5.8" width="8.6" height="2" fill="#3c93dc"/><rect x="25.8" y="3.6" width="1.6" height="5.2" fill="#15151a"/><rect x="12" y="0.8" width="6" height="0.9" fill="#b8ad90"/></g>
<g transform="translate(32.5 568.85)" filter="url(#b3)"><rect width="32" height="13.6" rx="1.6" fill="#e9eef2"/><path d="M8.4 5.8 L25.5 7.2 M12.6 1.2 V6.2 M21.6 0.8 V6.8 M11 10.5 V13" stroke="#9aa6b0" stroke-width="0.8" fill="none"/><rect x="30.3" y="2" width="1" height="10" fill="#cfd6dc"/></g>
<g transform="translate(32.5 587.2)" filter="url(#b3)"><rect width="32" height="13.6" rx="1.6" fill="#dfe4e3"/><path d="M15 9 Q22 1.5 31 3.2 M14 11.5 Q23 7.5 31.4 9.4 M9.5 0.8 V8" stroke="#b4bcbc" stroke-width="1.4" fill="none"/><ellipse cx="22.5" cy="9.6" rx="7" ry="1.8" fill="#eef1f0"/><rect x="2" y="9" width="6.4" height="3.8" fill="#3f80c4"/></g>
<g transform="translate(32.5 605.55)" filter="url(#b3)"><rect width="32" height="13.6" rx="1.6" fill="#e5e8e8"/><rect x="11.8" y="0.8" width="8.4" height="12.2" fill="#2a241e"/><rect x="13.2" y="2" width="5.6" height="9.8" fill="#3a3026"/></g>
<text x="18.4" y="521.7" font-family="'Liberation Serif','Noto Serif CJK SC',serif" font-size="4.5" fill="#525252" text-anchor="start" dominant-baseline="central" font-weight="500"  textLength="10.8" lengthAdjust="spacingAndGlyphs">窗帘</text>
<text x="18.4" y="540.05" font-family="'Liberation Serif','Noto Serif CJK SC',serif" font-size="4.5" fill="#525252" text-anchor="start" dominant-baseline="central" font-weight="500"  textLength="10.8" lengthAdjust="spacingAndGlyphs">空调</text>
<text x="18.4" y="555.7" font-family="'Liberation Serif','Noto Serif CJK SC',serif" font-size="4.5" fill="#525252" text-anchor="start" dominant-baseline="central" font-weight="500"  textLength="10.8" lengthAdjust="spacingAndGlyphs">教学</text>
<text x="18.4" y="560.9" font-family="'Liberation Serif','Noto Serif CJK SC',serif" font-size="4.5" fill="#525252" text-anchor="start" dominant-baseline="central" font-weight="500"  textLength="10.8" lengthAdjust="spacingAndGlyphs">设备</text>
<text x="18.4" y="576.75" font-family="'Liberation Serif','Noto Serif CJK SC',serif" font-size="4.5" fill="#525252" text-anchor="start" dominant-baseline="central" font-weight="500"  textLength="5.4" lengthAdjust="spacingAndGlyphs">灯</text>
<text x="18.4" y="595.1" font-family="'Liberation Serif','Noto Serif CJK SC',serif" font-size="4.5" fill="#525252" text-anchor="start" dominant-baseline="central" font-weight="500"  textLength="10.8" lengthAdjust="spacingAndGlyphs">风扇</text>
<text x="18.4" y="613.45" font-family="'Liberation Serif','Noto Serif CJK SC',serif" font-size="4.5" fill="#525252" text-anchor="start" dominant-baseline="central" font-weight="500"  textLength="5.4" lengthAdjust="spacingAndGlyphs">门</text>
<path d="M73.8 513 C77.4 518.4 79.2 528.12 78.4 541.08 C77.6 552.96 76.2 561.6 79.8 567 C76.2 572.4 77.6 581.04 78.4 592.92 C79.2 605.88 77.4 615.6 73.8 621" fill="none" stroke="#d6d8dc" stroke-width="1.5" stroke-linecap="round" filter="url(#b5)"/>
<g transform="translate(103.1 498.5)"><rect width="54.4" height="34" fill="#fefefe" stroke="#d2d2d2" stroke-width="0.9"/><g filter="url(#b3)"><path d="M10 1 H43 V11 Q43 14.2 40 14.2 H13 Q10 14.2 10 11 Z" fill="url(#camw)"/><path d="M10 9 H43 V11.6 Q43 14.2 40 14.2 H13 Q10 14.2 10 11.6 Z" fill="#e2e2e2"/><path d="M12 14 H41.4 Q41.8 26 34 31 Q26.6 34.6 19.4 31 Q11.6 26 12 14 Z" fill="url(#camb)"/><path d="M11.4 14 H42" stroke="#2a2a2a" stroke-width="1"/><circle cx="26.5" cy="24.6" r="4.6" fill="#2b2b2d"/><circle cx="26.5" cy="24.6" r="2.6" fill="#55585c"/><circle cx="26.5" cy="24.6" r="1.1" fill="#8a8e94"/><rect x="26" y="5.6" width="1.6" height="1.2" fill="#b0b0b0"/></g></g>
<g transform="translate(94.4 546.6)"><clipPath id="cp1"><rect width="72" height="38.7" rx="1.8"/></clipPath><g clip-path="url(#cp1)"><g transform="scale(0.08203) translate(-65 -78)" filter="url(#bp)"><rect x="0" y="0" width="1010" height="640" fill="#efe9e6"/><rect x="0" y="60" width="1010" height="52" fill="#c9c3bc"/><rect x="60" y="112" width="102" height="233" fill="#fbfbfb"/><rect x="165" y="120" width="35" height="225" fill="#5e5852"/><rect x="205" y="250" width="65" height="90" fill="#f6f4f2"/><rect x="262" y="122" width="533" height="34" fill="#e9b9b4"/><rect x="485" y="114" width="77" height="48" fill="#d8302c"/><rect x="268" y="124" width="26" height="30" fill="#c44840"/><rect x="312" y="124" width="26" height="30" fill="#c44840"/><rect x="356" y="124" width="26" height="30" fill="#c44840"/><rect x="400" y="124" width="26" height="30" fill="#c44840"/><rect x="444" y="124" width="26" height="30" fill="#c44840"/><rect x="576" y="124" width="26" height="30" fill="#c44840"/><rect x="620" y="124" width="26" height="30" fill="#c44840"/><rect x="664" y="124" width="26" height="30" fill="#c44840"/><rect x="708" y="124" width="26" height="30" fill="#c44840"/><rect x="752" y="124" width="26" height="30" fill="#c44840"/><rect x="435" y="240" width="177" height="96" fill="#e6f3f6"/><rect x="880" y="180" width="32" height="155" fill="#8e4040"/><rect x="915" y="160" width="35" height="180" fill="#f4f0ec"/><rect x="60" y="335" width="890" height="37" fill="#447f58"/><rect x="60" y="355" width="890" height="205" fill="#2e282c"/><ellipse cx="640" cy="252" rx="18" ry="20" fill="#2a2626"/><rect x="602" y="270" width="60" height="90" fill="#33302f" rx="10"/><ellipse cx="140" cy="410" rx="65" ry="22" fill="#9a8cae"/><ellipse cx="450" cy="405" rx="70" ry="24" fill="#b85c8c"/><ellipse cx="265" cy="470" rx="78" ry="32" fill="#c0223e"/><ellipse cx="560" cy="475" rx="44" ry="36" fill="#c42a44"/><ellipse cx="670" cy="490" rx="72" ry="58" fill="#2b3cae"/><path d="M690 500 L765 285 L795 295 L735 510 Z" fill="#2a3aa4"/><ellipse cx="835" cy="435" rx="46" ry="46" fill="#b044a2"/><ellipse cx="785" cy="500" rx="46" ry="42" fill="#6c2234"/><ellipse cx="910" cy="405" rx="32" ry="26" fill="#9ab83c"/><ellipse cx="905" cy="470" rx="40" ry="40" fill="#3a2a34"/><ellipse cx="100" cy="525" rx="34" ry="24" fill="#ece8ec"/><ellipse cx="335" cy="516" rx="46" ry="16" fill="#ece6ea"/><ellipse cx="500" cy="510" rx="22" ry="12" fill="#e6e2e6"/><ellipse cx="260" cy="528" rx="32" ry="18" fill="#3fa060"/><ellipse cx="405" cy="540" rx="76" ry="12" fill="#d2407e"/><ellipse cx="120" cy="350" rx="22" ry="16" fill="#1e1a1c"/><ellipse cx="220" cy="352" rx="20" ry="14" fill="#1e1a1c"/><ellipse cx="345" cy="372" rx="26" ry="20" fill="#1c1a1c"/><ellipse cx="410" cy="352" rx="18" ry="14" fill="#1e1a1c"/><ellipse cx="500" cy="356" rx="20" ry="14" fill="#1e1a1c"/><ellipse cx="590" cy="392" rx="36" ry="34" fill="#1e1c1e"/><ellipse cx="420" cy="470" rx="50" ry="30" fill="#262226"/><ellipse cx="820" cy="350" rx="20" ry="14" fill="#1e1a1c"/><ellipse cx="880" cy="352" rx="20" ry="14" fill="#1e1a1c"/><ellipse cx="930" cy="360" rx="18" ry="16" fill="#1e1a1c"/><ellipse cx="110" cy="470" rx="40" ry="28" fill="#3a3438"/></g></g></g>
<path d="M186 512.2 C182.4 517.6 180.6 527.32 181.4 540.28 C182.2 552.16 183.6 560.8 180 566.2 C183.6 571.6 182.2 580.24 181.4 592.12 C180.6 605.08 182.4 614.8 186 620.2" fill="none" stroke="#d6d8dc" stroke-width="1.5" stroke-linecap="round" filter="url(#b5)"/>
<g transform="translate(193.7 514.1)" filter="url(#b3)"><rect width="32" height="10.6" rx="1.8" fill="#0b0b0b"/><path d="M5 6.4 h5 M12 5.2 h9 M7 3.4 h4 M14 7.2 h12 M22 4.6 h6" stroke="#8f9a90" stroke-width="0.6" fill="none"/></g>
<g transform="translate(193.7 528.9)" filter="url(#b3)"><rect width="32" height="12" rx="1" fill="#fdfdfd" stroke="#d8d0d0" stroke-width="0.5" stroke-dasharray="1 1"/><path d="M3 2 h26 M6 4.2 h21 M3 6.4 h24" stroke="#9a8f95" stroke-width="0.7" fill="none" stroke-dasharray="2.4 0.8"/><path d="M5 8.6 h22 M4 10.6 h23" stroke="#6f6f78" stroke-width="0.7" fill="none" stroke-dasharray="1.8 0.7"/></g>
<g transform="translate(193.7 545.45)" filter="url(#b3)"><rect width="32" height="10.6" fill="#f2f4f4"/><rect x="0.60" y="0.20" width="5.6" height="2.4" rx="0.5" fill="#101416"/><rect x="6.90" y="0.20" width="5.6" height="2.4" rx="0.5" fill="#101416"/><rect x="13.20" y="0.20" width="5.6" height="2.4" rx="0.5" fill="#101416"/><rect x="19.50" y="0.20" width="5.6" height="2.4" rx="0.5" fill="#101416"/><rect x="25.80" y="0.20" width="5.6" height="2.4" rx="0.5" fill="#101416"/><rect x="0.60" y="4.15" width="5.6" height="2.4" rx="0.5" fill="#101416"/><rect x="6.90" y="4.15" width="5.6" height="2.4" rx="0.5" fill="#101416"/><rect x="13.20" y="4.15" width="5.6" height="2.4" rx="0.5" fill="#101416"/><rect x="19.50" y="4.15" width="5.6" height="2.4" rx="0.5" fill="#101416"/><rect x="25.80" y="4.15" width="5.6" height="2.4" rx="0.5" fill="#101416"/><rect x="0.60" y="8.10" width="5.6" height="2.4" rx="0.5" fill="#101416"/><rect x="6.90" y="8.10" width="5.6" height="2.4" rx="0.5" fill="#101416"/><rect x="13.20" y="8.10" width="5.6" height="2.4" rx="0.5" fill="#101416"/><rect x="19.50" y="8.10" width="5.6" height="2.4" rx="0.5" fill="#101416"/><rect x="25.80" y="8.10" width="5.6" height="2.4" rx="0.5" fill="#101416"/></g>
<g transform="translate(193.7 560.4)" filter="url(#b3)"><rect width="32" height="11.4" rx="1" fill="#fefefe" stroke="#ececec" stroke-width="0.4"/><rect x="1.2" y="2" width="4" height="3" rx="0.6" fill="none" stroke="#8fc8c0" stroke-width="0.5"/><path d="M3.2 7 l-2 1.6 h4 z" fill="none" stroke="#d8a0a0" stroke-width="0.5"/><path d="M7 1.8 h15 M7 3.8 h8 M7 7.6 h12 M7 9.6 h9" stroke="#a8b0b4" stroke-width="0.7" fill="none"/><path d="M28 2 h3 M28 8.6 h3" stroke="#c0c4c8" stroke-width="0.6"/></g>
<g transform="translate(193.7 576.6)" filter="url(#b3)"><rect width="32" height="11" rx="1" fill="#fbfbfb" stroke="#ececec" stroke-width="0.4"/><path d="M1.5 1.5 h5 M1.5 4 h8 M1.5 6.4 h7 M1.5 8.8 h9" stroke="#d0d4d6" stroke-width="0.7" fill="none"/><path d="M13 0.8 V10.2 M18.5 0.8 V10.2 M24.5 0.8 V10.2 M12 3.6 H31 M12 7 H31" stroke="#e4e6e8" stroke-width="0.6" fill="none"/></g>
<g transform="translate(193.7 593.35)" filter="url(#b3)"><rect width="32" height="10.8" rx="1" fill="#fefefe"/><path d="M0.8 1.6 h5.6 M0.8 5 h4 M0.8 8.6 h3" stroke="#7f878c" stroke-width="0.9" fill="none"/><path d="M11 1.6 h8 M11 5 h4 M11 8.6 h9" stroke="#d4d8da" stroke-width="0.7" fill="none"/><circle cx="27.6" cy="5.8" r="3.6" fill="none" stroke="#9fd2c4" stroke-width="0.8"/><circle cx="27.6" cy="5.8" r="1.5" fill="none" stroke="#9fd2c4" stroke-width="0.6"/></g>
<g transform="translate(193.7 609.05)" filter="url(#b3)"><rect width="32" height="9.4" rx="1" fill="#fefefe"/><circle cx="2" cy="2.2" r="1.3" fill="#7a4a40"/><circle cx="2" cy="7" r="1.3" fill="#c8a640"/><path d="M6 1.6 h9 M6 6.4 h10" stroke="#6a6a72" stroke-width="0.8" fill="none"/><path d="M6 3.4 h6 M6 8.2 h7" stroke="#c4c8cc" stroke-width="0.6" fill="none"/><rect x="26" y="1" width="4.6" height="2" rx="0.5" fill="none" stroke="#d0d4d8" stroke-width="0.4"/><rect x="26" y="6" width="4.6" height="2" rx="0.5" fill="none" stroke="#d0d4d8" stroke-width="0.4"/></g>
<text x="228.4" y="520.1" font-family="'Liberation Serif','Noto Serif CJK SC',serif" font-size="4.5" fill="#525252" text-anchor="start" dominant-baseline="central" font-weight="500"  textLength="11.6" lengthAdjust="spacingAndGlyphs">板书</text>
<text x="228.4" y="535.6" font-family="'Liberation Serif','Noto Serif CJK SC',serif" font-size="4.5" fill="#525252" text-anchor="start" dominant-baseline="central" font-weight="500"  textLength="11.6" lengthAdjust="spacingAndGlyphs">批注</text>
<text x="228.4" y="551.45" font-family="'Liberation Serif','Noto Serif CJK SC',serif" font-size="4.5" fill="#525252" text-anchor="start" dominant-baseline="central" font-weight="500"  textLength="11.6" lengthAdjust="spacingAndGlyphs">选课</text>
<text x="228.4" y="566.8" font-family="'Liberation Serif','Noto Serif CJK SC',serif" font-size="4.5" fill="#525252" text-anchor="start" dominant-baseline="central" font-weight="500"  textLength="11.6" lengthAdjust="spacingAndGlyphs">作业</text>
<text x="228.4" y="582.8" font-family="'Liberation Serif','Noto Serif CJK SC',serif" font-size="4.5" fill="#525252" text-anchor="start" dominant-baseline="central" font-weight="500"  textLength="11.6" lengthAdjust="spacingAndGlyphs">课件</text>
<text x="228.4" y="599.45" font-family="'Liberation Serif','Noto Serif CJK SC',serif" font-size="4.5" fill="#525252" text-anchor="start" dominant-baseline="central" font-weight="500"  textLength="11.6" lengthAdjust="spacingAndGlyphs">测试</text>
<text x="228.4" y="614.45" font-family="'Liberation Serif','Noto Serif CJK SC',serif" font-size="4.5" fill="#525252" text-anchor="start" dominant-baseline="central" font-weight="500"  textLength="11.6" lengthAdjust="spacingAndGlyphs">通知</text>
<path d="M496.9 487.3 H260.9" fill="none" stroke="#eefaf8" stroke-width="2.4"/>
<path d="M260.9 487.3 V628" fill="none" stroke="#e4f8fc" stroke-width="2.6"/>
<path d="M496.9 487.3 V628" fill="none" stroke="#e6f8fc" stroke-width="2.6"/>
<path d="M260.9 487.3 H496.9" fill="none" stroke="#5f857e" stroke-width="0.95" stroke-dasharray="2.1 1.8"/>
<path d="M260.9 628 H496.9" fill="none" stroke="#a9c6bd" stroke-width="1" stroke-dasharray="2.1 1.8"/>
<path d="M260.9 487.3 V628" fill="none" stroke="#4f929c" stroke-width="1.25" stroke-dasharray="1.6 1.65"/>
<path d="M496.9 487.3 V628" fill="none" stroke="#4f929c" stroke-width="1.1" stroke-dasharray="1.6 1.55"/>
<g transform="translate(281.2 513.8)" filter="url(#b3)"><rect width="32" height="13.6" rx="1.6" fill="#dde1e2"/><rect x="1.4" y="0.3" width="11.4" height="13.0" fill="#3b6db6"/><rect x="3.6" y="0.3" width="1.2" height="13.0" fill="#5b8ad0"/><rect x="7.4" y="0.3" width="1.2" height="13.0" fill="#2f5ea6"/><rect x="10.4" y="0.3" width="1" height="13.0" fill="#5b8ad0"/><rect x="14" y="1.2" width="17" height="2.4" fill="#eef0f0"/><rect x="14" y="5.4" width="17" height="1.6" fill="#c9cfd1"/><rect x="14" y="9.2" width="17" height="1.8" fill="#cfd4d6"/></g>
<g transform="translate(281.2 532.15)" filter="url(#b3)"><rect width="32" height="13.6" rx="1.6" fill="#dfa135"/><rect x="11" y="0.5" width="1.1" height="12.6" fill="#c98a25"/><rect x="15" y="0.5" width="1.1" height="12.6" fill="#c98a25"/><rect x="19" y="0.5" width="1.1" height="12.6" fill="#c98a25"/><rect x="23" y="0.5" width="1.1" height="12.6" fill="#c98a25"/><rect x="27" y="0.5" width="1.1" height="12.6" fill="#c98a25"/><polygon points="0.6,8.6 12,3.4 17.6,5.6 6.6,13 0.6,13" fill="#30303c"/><polygon points="5,7.4 13,4.2 15.6,5.4 7.8,8.8" fill="#8a96b0"/></g>
<g transform="translate(281.2 550.5)" filter="url(#b3)"><rect width="32" height="13.6" rx="1.6" fill="#e8dfc8"/><rect x="4.6" y="2.6" width="20" height="8.6" fill="#fbfbf8" stroke="#cfc6ae" stroke-width="0.5"/><rect x="10.4" y="5.8" width="8.6" height="2" fill="#3c93dc"/><rect x="25.8" y="3.6" width="1.6" height="5.2" fill="#15151a"/><rect x="12" y="0.8" width="6" height="0.9" fill="#b8ad90"/></g>
<g transform="translate(281.2 568.85)" filter="url(#b3)"><rect width="32" height="13.6" rx="1.6" fill="#e9eef2"/><path d="M8.4 5.8 L25.5 7.2 M12.6 1.2 V6.2 M21.6 0.8 V6.8 M11 10.5 V13" stroke="#9aa6b0" stroke-width="0.8" fill="none"/><rect x="30.3" y="2" width="1" height="10" fill="#cfd6dc"/></g>
<g transform="translate(281.2 587.2)" filter="url(#b3)"><rect width="32" height="13.6" rx="1.6" fill="#dfe4e3"/><path d="M15 9 Q22 1.5 31 3.2 M14 11.5 Q23 7.5 31.4 9.4 M9.5 0.8 V8" stroke="#b4bcbc" stroke-width="1.4" fill="none"/><ellipse cx="22.5" cy="9.6" rx="7" ry="1.8" fill="#eef1f0"/><rect x="2" y="9" width="6.4" height="3.8" fill="#3f80c4"/></g>
<g transform="translate(281.2 605.55)" filter="url(#b3)"><rect width="32" height="13.6" rx="1.6" fill="#e5e8e8"/><rect x="11.8" y="0.8" width="8.4" height="12.2" fill="#2a241e"/><rect x="13.2" y="2" width="5.6" height="9.8" fill="#3a3026"/></g>
<text x="267.1" y="521.7" font-family="'Liberation Serif','Noto Serif CJK SC',serif" font-size="4.5" fill="#525252" text-anchor="start" dominant-baseline="central" font-weight="500"  textLength="10.8" lengthAdjust="spacingAndGlyphs">窗帘</text>
<text x="267.1" y="540.05" font-family="'Liberation Serif','Noto Serif CJK SC',serif" font-size="4.5" fill="#525252" text-anchor="start" dominant-baseline="central" font-weight="500"  textLength="10.8" lengthAdjust="spacingAndGlyphs">空调</text>
<text x="267.1" y="555.7" font-family="'Liberation Serif','Noto Serif CJK SC',serif" font-size="4.5" fill="#525252" text-anchor="start" dominant-baseline="central" font-weight="500"  textLength="10.8" lengthAdjust="spacingAndGlyphs">教学</text>
<text x="267.1" y="560.9" font-family="'Liberation Serif','Noto Serif CJK SC',serif" font-size="4.5" fill="#525252" text-anchor="start" dominant-baseline="central" font-weight="500"  textLength="10.8" lengthAdjust="spacingAndGlyphs">设备</text>
<text x="267.1" y="576.75" font-family="'Liberation Serif','Noto Serif CJK SC',serif" font-size="4.5" fill="#525252" text-anchor="start" dominant-baseline="central" font-weight="500"  textLength="5.4" lengthAdjust="spacingAndGlyphs">灯</text>
<text x="267.1" y="595.1" font-family="'Liberation Serif','Noto Serif CJK SC',serif" font-size="4.5" fill="#525252" text-anchor="start" dominant-baseline="central" font-weight="500"  textLength="10.8" lengthAdjust="spacingAndGlyphs">风扇</text>
<text x="267.1" y="613.45" font-family="'Liberation Serif','Noto Serif CJK SC',serif" font-size="4.5" fill="#525252" text-anchor="start" dominant-baseline="central" font-weight="500"  textLength="5.4" lengthAdjust="spacingAndGlyphs">门</text>
<path d="M322.5 513 C326.1 518.4 327.9 528.12 327.1 541.08 C326.3 552.96 324.9 561.6 328.5 567 C324.9 572.4 326.3 581.04 327.1 592.92 C327.9 605.88 326.1 615.6 322.5 621" fill="none" stroke="#d6d8dc" stroke-width="1.5" stroke-linecap="round" filter="url(#b5)"/>
<g transform="translate(351 498.4)"><rect width="54.4" height="34" fill="#fefefe" stroke="#d2d2d2" stroke-width="0.9"/><g filter="url(#b3)"><path d="M10 1 H43 V11 Q43 14.2 40 14.2 H13 Q10 14.2 10 11 Z" fill="url(#camw)"/><path d="M10 9 H43 V11.6 Q43 14.2 40 14.2 H13 Q10 14.2 10 11.6 Z" fill="#e2e2e2"/><path d="M12 14 H41.4 Q41.8 26 34 31 Q26.6 34.6 19.4 31 Q11.6 26 12 14 Z" fill="url(#camb)"/><path d="M11.4 14 H42" stroke="#2a2a2a" stroke-width="1"/><circle cx="26.5" cy="24.6" r="4.6" fill="#2b2b2d"/><circle cx="26.5" cy="24.6" r="2.6" fill="#55585c"/><circle cx="26.5" cy="24.6" r="1.1" fill="#8a8e94"/><rect x="26" y="5.6" width="1.6" height="1.2" fill="#b0b0b0"/></g></g>
<g transform="translate(342.7 539.8)"><clipPath id="cp2"><rect width="71.8" height="38.6" rx="1.8"/></clipPath><g clip-path="url(#cp2)"><g transform="scale(0.08203) translate(-65 -72)" filter="url(#bp)"><rect x="0" y="0" width="1010" height="640" fill="#c9c9c9"/><rect x="0" y="60" width="1010" height="32" fill="#8c8c8a"/><rect x="200" y="92" width="750" height="48" fill="#d4d2d2"/><rect x="60" y="72" width="26" height="473" fill="#444444"/><rect x="86" y="150" width="26" height="270" fill="#6a6a6a"/><rect x="112" y="180" width="74" height="222" fill="#e4e4e4"/><rect x="130" y="205" width="40" height="95" fill="#d2d2d2"/><rect x="392" y="132" width="306" height="150" fill="#bcc6c2"/><rect x="404" y="142" width="284" height="132" fill="#e6f5ef"/><rect x="700" y="138" width="26" height="80" fill="#222226"/><rect x="866" y="170" width="50" height="52" fill="#a2a2a2"/><rect x="190" y="276" width="760" height="56" fill="#4f9070"/><rect x="60" y="330" width="890" height="230" fill="#9c9a96"/><polygon points="450,322 770,322 800,545 380,545" fill="#b9a88e"/><path d="M535 222 Q560 205 575 235 L602 308 L540 312 Z" fill="#1c1c24"/><ellipse cx="190" cy="455" rx="62" ry="60" fill="#8a8a8c"/><ellipse cx="222" cy="392" rx="30" ry="30" fill="#2a2a2e"/><ellipse cx="318" cy="392" rx="66" ry="50" fill="#d6d82e"/><ellipse cx="306" cy="325" rx="26" ry="24" fill="#1e1e22"/><ellipse cx="366" cy="304" rx="20" ry="18" fill="#1c2a4a"/><ellipse cx="366" cy="340" rx="24" ry="20" fill="#3a62c0"/><rect x="272" y="440" width="62" height="82" fill="#2a2a2c" rx="10"/><ellipse cx="424" cy="372" rx="30" ry="34" fill="#4a3a34"/><ellipse cx="424" cy="345" rx="20" ry="16" fill="#d8b8a0"/><ellipse cx="470" cy="445" rx="50" ry="30" fill="#a8a49c"/><ellipse cx="836" cy="455" rx="98" ry="68" fill="#2a42c2"/><ellipse cx="792" cy="332" rx="30" ry="32" fill="#1c1c22"/><ellipse cx="862" cy="342" rx="36" ry="34" fill="#1a1a20"/><ellipse cx="702" cy="450" rx="34" ry="34" fill="#e0d040"/><ellipse cx="716" cy="402" rx="16" ry="16" fill="#2a2426"/><ellipse cx="925" cy="440" rx="24" ry="50" fill="#3a5ac8"/><rect x="86" y="502" width="264" height="58" fill="#1e1e20"/><rect x="700" y="516" width="250" height="44" fill="#1e1e22"/></g></g></g>
<g transform="translate(342.6 583.6)"><rect width="71.8" height="36" fill="#fefefe" stroke="#cfcfcf" stroke-width="0.8"/><g filter="url(#b3)"><rect x="1.4" y="1.8" width="12.6" height="6" rx="0.8" fill="#1c1c4a"/><rect x="3" y="3.2" width="8" height="3" fill="#c8323c"/><rect x="11" y="3.2" width="2" height="3" fill="#5a6ac8"/><rect x="3.4" y="9" width="8" height="1" fill="#55555a"/><polygon points="27,3.4 46,3.4 49.4,7 25.4,7" fill="#cfd6dc"/><rect x="25.4" y="7" width="24" height="1.8" fill="#8e989f"/><rect x="50.5" y="4.6" width="11" height="2.2" fill="#4a4a4e"/><path d="M16 14 V18 M38.6 9 V18 M61 14 V18" stroke="#9a9a9a" stroke-width="0.6"/><rect x="7" y="18" width="18" height="14.2" fill="#fff" stroke="#d0d0d0" stroke-width="0.6"/><rect x="29.6" y="18" width="18.4" height="14.2" fill="#fff" stroke="#d0d0d0" stroke-width="0.6"/><rect x="52.6" y="18" width="18.4" height="14.2" fill="#fff" stroke="#d0d0d0" stroke-width="0.6"/><circle cx="16" cy="23.6" r="3" fill="#3a3a3e"/><circle cx="16" cy="23.6" r="1.2" fill="#9a9aa0"/><rect x="12.2" y="27" width="7.6" height="1.8" rx="0.8" fill="#2a2a2e"/><rect x="31.6" y="26.4" width="11" height="1.8" fill="#1e1e22"/><rect x="35.4" y="22" width="1.6" height="4.6" fill="#2a2a2e"/><rect x="38.6" y="20.6" width="1.2" height="6" fill="#2a2a2e"/><polygon points="56.4,25 61,22.4 68,22.8 66,26.8 58,27" fill="#4a4a50"/><rect x="60.5" y="23.4" width="5" height="1" fill="#a8a8b0"/><rect x="11.4" y="33.4" width="9" height="1" fill="#6a6a6e"/><rect x="35" y="33.4" width="8" height="1" fill="#6a6a6e"/><rect x="57.6" y="33.4" width="8" height="1" fill="#6a6a6e"/></g></g>
<path d="M283.1 565.6 H310.9" stroke="#6a6a6a" stroke-width="0.6" stroke-dasharray="1.4 1 2.6 0.8 0.8 0.8" fill="none"/>
<text x="379.7" y="623.2" font-family="'Liberation Serif','Noto Serif CJK SC',serif" font-size="4.8" fill="#525252" text-anchor="middle" dominant-baseline="central" font-weight="500"  textLength="21.6" lengthAdjust="spacingAndGlyphs">录播设备</text>
<path d="M434.9 505 C431.3 510.85 429.5 521.38 430.3 535.42 C431.1 548.29 432.5 557.65 428.9 563.5 C432.5 569.35 431.1 578.71 430.3 591.58 C429.5 605.62 431.3 616.15 434.9 622" fill="none" stroke="#d6d8dc" stroke-width="1.5" stroke-linecap="round" filter="url(#b5)"/>
<g transform="translate(441 496.9)" filter="url(#b3)"><rect width="32" height="10.6" rx="1.8" fill="#0b0b0b"/><path d="M5 6.4 h5 M12 5.2 h9 M7 3.4 h4 M14 7.2 h12 M22 4.6 h6" stroke="#8f9a90" stroke-width="0.6" fill="none"/></g>
<g transform="translate(441 511.7)" filter="url(#b3)"><rect width="32" height="12" rx="1" fill="#fdfdfd" stroke="#d8d0d0" stroke-width="0.5" stroke-dasharray="1 1"/><path d="M3 2 h26 M6 4.2 h21 M3 6.4 h24" stroke="#9a8f95" stroke-width="0.7" fill="none" stroke-dasharray="2.4 0.8"/><path d="M5 8.6 h22 M4 10.6 h23" stroke="#6f6f78" stroke-width="0.7" fill="none" stroke-dasharray="1.8 0.7"/></g>
<g transform="translate(441 528.2)" filter="url(#b3)"><rect width="32" height="10.6" fill="#f2f4f4"/><rect x="0.60" y="0.20" width="5.6" height="2.4" rx="0.5" fill="#101416"/><rect x="6.90" y="0.20" width="5.6" height="2.4" rx="0.5" fill="#101416"/><rect x="13.20" y="0.20" width="5.6" height="2.4" rx="0.5" fill="#101416"/><rect x="19.50" y="0.20" width="5.6" height="2.4" rx="0.5" fill="#101416"/><rect x="25.80" y="0.20" width="5.6" height="2.4" rx="0.5" fill="#101416"/><rect x="0.60" y="4.15" width="5.6" height="2.4" rx="0.5" fill="#101416"/><rect x="6.90" y="4.15" width="5.6" height="2.4" rx="0.5" fill="#101416"/><rect x="13.20" y="4.15" width="5.6" height="2.4" rx="0.5" fill="#101416"/><rect x="19.50" y="4.15" width="5.6" height="2.4" rx="0.5" fill="#101416"/><rect x="25.80" y="4.15" width="5.6" height="2.4" rx="0.5" fill="#101416"/><rect x="0.60" y="8.10" width="5.6" height="2.4" rx="0.5" fill="#101416"/><rect x="6.90" y="8.10" width="5.6" height="2.4" rx="0.5" fill="#101416"/><rect x="13.20" y="8.10" width="5.6" height="2.4" rx="0.5" fill="#101416"/><rect x="19.50" y="8.10" width="5.6" height="2.4" rx="0.5" fill="#101416"/><rect x="25.80" y="8.10" width="5.6" height="2.4" rx="0.5" fill="#101416"/></g>
<g transform="translate(441 543.8)" filter="url(#b3)"><rect width="32" height="11.4" rx="1" fill="#fefefe" stroke="#ececec" stroke-width="0.4"/><rect x="1.2" y="2" width="4" height="3" rx="0.6" fill="none" stroke="#8fc8c0" stroke-width="0.5"/><path d="M3.2 7 l-2 1.6 h4 z" fill="none" stroke="#d8a0a0" stroke-width="0.5"/><path d="M7 1.8 h15 M7 3.8 h8 M7 7.6 h12 M7 9.6 h9" stroke="#a8b0b4" stroke-width="0.7" fill="none"/><path d="M28 2 h3 M28 8.6 h3" stroke="#c0c4c8" stroke-width="0.6"/></g>
<g transform="translate(441 559.7)" filter="url(#b3)"><rect width="32" height="11" rx="1" fill="#fbfbfb" stroke="#ececec" stroke-width="0.4"/><path d="M1.5 1.5 h5 M1.5 4 h8 M1.5 6.4 h7 M1.5 8.8 h9" stroke="#d0d4d6" stroke-width="0.7" fill="none"/><path d="M13 0.8 V10.2 M18.5 0.8 V10.2 M24.5 0.8 V10.2 M12 3.6 H31 M12 7 H31" stroke="#e4e6e8" stroke-width="0.6" fill="none"/></g>
<g transform="translate(441 575.8)" filter="url(#b3)"><rect width="32" height="10.8" rx="1" fill="#fefefe"/><path d="M0.8 1.6 h5.6 M0.8 5 h4 M0.8 8.6 h3" stroke="#7f878c" stroke-width="0.9" fill="none"/><path d="M11 1.6 h8 M11 5 h4 M11 8.6 h9" stroke="#d4d8da" stroke-width="0.7" fill="none"/><circle cx="27.6" cy="5.8" r="3.6" fill="none" stroke="#9fd2c4" stroke-width="0.8"/><circle cx="27.6" cy="5.8" r="1.5" fill="none" stroke="#9fd2c4" stroke-width="0.6"/></g>
<g transform="translate(441 592.3)" filter="url(#b3)"><rect width="32" height="9.4" rx="1" fill="#fefefe"/><circle cx="2" cy="2.2" r="1.3" fill="#7a4a40"/><circle cx="2" cy="7" r="1.3" fill="#c8a640"/><path d="M6 1.6 h9 M6 6.4 h10" stroke="#6a6a72" stroke-width="0.8" fill="none"/><path d="M6 3.4 h6 M6 8.2 h7" stroke="#c4c8cc" stroke-width="0.6" fill="none"/><rect x="26" y="1" width="4.6" height="2" rx="0.5" fill="none" stroke="#d0d4d8" stroke-width="0.4"/><rect x="26" y="6" width="4.6" height="2" rx="0.5" fill="none" stroke="#d0d4d8" stroke-width="0.4"/></g>
<text x="475.7" y="502.9" font-family="'Liberation Serif','Noto Serif CJK SC',serif" font-size="4.5" fill="#525252" text-anchor="start" dominant-baseline="central" font-weight="500"  textLength="11.6" lengthAdjust="spacingAndGlyphs">板书</text>
<text x="475.7" y="518.4" font-family="'Liberation Serif','Noto Serif CJK SC',serif" font-size="4.5" fill="#525252" text-anchor="start" dominant-baseline="central" font-weight="500"  textLength="11.6" lengthAdjust="spacingAndGlyphs">批注</text>
<text x="475.7" y="534.2" font-family="'Liberation Serif','Noto Serif CJK SC',serif" font-size="4.5" fill="#525252" text-anchor="start" dominant-baseline="central" font-weight="500"  textLength="11.6" lengthAdjust="spacingAndGlyphs">选课</text>
<text x="475.7" y="550.2" font-family="'Liberation Serif','Noto Serif CJK SC',serif" font-size="4.5" fill="#525252" text-anchor="start" dominant-baseline="central" font-weight="500"  textLength="11.6" lengthAdjust="spacingAndGlyphs">作业</text>
<text x="475.7" y="565.9" font-family="'Liberation Serif','Noto Serif CJK SC',serif" font-size="4.5" fill="#525252" text-anchor="start" dominant-baseline="central" font-weight="500"  textLength="11.6" lengthAdjust="spacingAndGlyphs">课件</text>
<text x="475.7" y="581.9" font-family="'Liberation Serif','Noto Serif CJK SC',serif" font-size="4.5" fill="#525252" text-anchor="start" dominant-baseline="central" font-weight="500"  textLength="11.6" lengthAdjust="spacingAndGlyphs">测试</text>
<text x="475.7" y="597.7" font-family="'Liberation Serif','Noto Serif CJK SC',serif" font-size="4.5" fill="#525252" text-anchor="start" dominant-baseline="central" font-weight="500"  textLength="11.6" lengthAdjust="spacingAndGlyphs">通知</text>
<g transform="translate(441 608.4)" filter="url(#b3)"><rect width="52" height="10" rx="1" fill="#fefefe" stroke="#e2e2e2" stroke-width="0.5"/><rect x="2" y="2" width="3" height="4" fill="#2a2a2e"/><path d="M6 3 h16 M25 3 h5 M33 3 h15" stroke="#1e1e22" stroke-width="1.3" stroke-dasharray="1.6 0.5"/><path d="M3 7 h10" stroke="#9a9aa0" stroke-width="0.6"/></g>
<text x="443" y="622.4" font-family="'Liberation Serif','Noto Serif CJK SC',serif" font-size="5" fill="#525252" text-anchor="start" dominant-baseline="central" font-weight="500"  textLength="29" lengthAdjust="spacingAndGlyphs">录直播课程</text>
<path d="M757.5 487.3 H521.5" fill="none" stroke="#eefaf8" stroke-width="2.4"/>
<path d="M521.5 487.3 V627.5" fill="none" stroke="#eefaf8" stroke-width="2.6"/>
<path d="M757.5 487.3 V627.5" fill="none" stroke="#e6f8fc" stroke-width="2.6"/>
<path d="M521.5 487.3 H757.5" fill="none" stroke="#5f857e" stroke-width="0.95" stroke-dasharray="2.1 1.8"/>
<path d="M521.5 627.5 H757.5" fill="none" stroke="#a9c6bd" stroke-width="1" stroke-dasharray="2.1 1.8"/>
<path d="M521.5 487.3 V627.5" fill="none" stroke="#5f857e" stroke-width="1" stroke-dasharray="1.6 1.65"/>
<path d="M757.5 487.3 V627.5" fill="none" stroke="#4f929c" stroke-width="1.1" stroke-dasharray="1.6 1.55"/>
<g transform="translate(541.8 513.8)" filter="url(#b3)"><rect width="32" height="13.6" rx="1.6" fill="#dde1e2"/><rect x="1.4" y="0.3" width="11.4" height="13.0" fill="#3b6db6"/><rect x="3.6" y="0.3" width="1.2" height="13.0" fill="#5b8ad0"/><rect x="7.4" y="0.3" width="1.2" height="13.0" fill="#2f5ea6"/><rect x="10.4" y="0.3" width="1" height="13.0" fill="#5b8ad0"/><rect x="14" y="1.2" width="17" height="2.4" fill="#eef0f0"/><rect x="14" y="5.4" width="17" height="1.6" fill="#c9cfd1"/><rect x="14" y="9.2" width="17" height="1.8" fill="#cfd4d6"/></g>
<g transform="translate(541.8 532.15)" filter="url(#b3)"><rect width="32" height="13.6" rx="1.6" fill="#dfa135"/><rect x="11" y="0.5" width="1.1" height="12.6" fill="#c98a25"/><rect x="15" y="0.5" width="1.1" height="12.6" fill="#c98a25"/><rect x="19" y="0.5" width="1.1" height="12.6" fill="#c98a25"/><rect x="23" y="0.5" width="1.1" height="12.6" fill="#c98a25"/><rect x="27" y="0.5" width="1.1" height="12.6" fill="#c98a25"/><polygon points="0.6,8.6 12,3.4 17.6,5.6 6.6,13 0.6,13" fill="#30303c"/><polygon points="5,7.4 13,4.2 15.6,5.4 7.8,8.8" fill="#8a96b0"/></g>
<g transform="translate(541.8 550.5)" filter="url(#b3)"><rect width="32" height="13.6" rx="1.6" fill="#e8dfc8"/><rect x="4.6" y="2.6" width="20" height="8.6" fill="#fbfbf8" stroke="#cfc6ae" stroke-width="0.5"/><rect x="10.4" y="5.8" width="8.6" height="2" fill="#3c93dc"/><rect x="25.8" y="3.6" width="1.6" height="5.2" fill="#15151a"/><rect x="12" y="0.8" width="6" height="0.9" fill="#b8ad90"/></g>
<g transform="translate(541.8 568.85)" filter="url(#b3)"><rect width="32" height="13.6" rx="1.6" fill="#e9eef2"/><path d="M8.4 5.8 L25.5 7.2 M12.6 1.2 V6.2 M21.6 0.8 V6.8 M11 10.5 V13" stroke="#9aa6b0" stroke-width="0.8" fill="none"/><rect x="30.3" y="2" width="1" height="10" fill="#cfd6dc"/></g>
<g transform="translate(541.8 587.2)" filter="url(#b3)"><rect width="32" height="13.6" rx="1.6" fill="#dfe4e3"/><path d="M15 9 Q22 1.5 31 3.2 M14 11.5 Q23 7.5 31.4 9.4 M9.5 0.8 V8" stroke="#b4bcbc" stroke-width="1.4" fill="none"/><ellipse cx="22.5" cy="9.6" rx="7" ry="1.8" fill="#eef1f0"/><rect x="2" y="9" width="6.4" height="3.8" fill="#3f80c4"/></g>
<g transform="translate(541.8 605.55)" filter="url(#b3)"><rect width="32" height="13.6" rx="1.6" fill="#e5e8e8"/><rect x="11.8" y="0.8" width="8.4" height="12.2" fill="#2a241e"/><rect x="13.2" y="2" width="5.6" height="9.8" fill="#3a3026"/></g>
<text x="527.7" y="521.7" font-family="'Liberation Serif','Noto Serif CJK SC',serif" font-size="4.5" fill="#525252" text-anchor="start" dominant-baseline="central" font-weight="500"  textLength="10.8" lengthAdjust="spacingAndGlyphs">窗帘</text>
<text x="527.7" y="540.05" font-family="'Liberation Serif','Noto Serif CJK SC',serif" font-size="4.5" fill="#525252" text-anchor="start" dominant-baseline="central" font-weight="500"  textLength="10.8" lengthAdjust="spacingAndGlyphs">空调</text>
<text x="527.7" y="555.7" font-family="'Liberation Serif','Noto Serif CJK SC',serif" font-size="4.5" fill="#525252" text-anchor="start" dominant-baseline="central" font-weight="500"  textLength="10.8" lengthAdjust="spacingAndGlyphs">教学</text>
<text x="527.7" y="560.9" font-family="'Liberation Serif','Noto Serif CJK SC',serif" font-size="4.5" fill="#525252" text-anchor="start" dominant-baseline="central" font-weight="500"  textLength="10.8" lengthAdjust="spacingAndGlyphs">设备</text>
<text x="527.7" y="576.75" font-family="'Liberation Serif','Noto Serif CJK SC',serif" font-size="4.5" fill="#525252" text-anchor="start" dominant-baseline="central" font-weight="500"  textLength="5.4" lengthAdjust="spacingAndGlyphs">灯</text>
<text x="527.7" y="595.1" font-family="'Liberation Serif','Noto Serif CJK SC',serif" font-size="4.5" fill="#525252" text-anchor="start" dominant-baseline="central" font-weight="500"  textLength="10.8" lengthAdjust="spacingAndGlyphs">风扇</text>
<text x="527.7" y="613.45" font-family="'Liberation Serif','Noto Serif CJK SC',serif" font-size="4.5" fill="#525252" text-anchor="start" dominant-baseline="central" font-weight="500"  textLength="5.4" lengthAdjust="spacingAndGlyphs">门</text>
<path d="M583.1 513 C586.7 518.4 588.5 528.12 587.7 541.08 C586.9 552.96 585.5 561.6 589.1 567 C585.5 572.4 586.9 581.04 587.7 592.92 C588.5 605.88 586.7 615.6 583.1 621" fill="none" stroke="#d6d8dc" stroke-width="1.5" stroke-linecap="round" filter="url(#b5)"/>
<g transform="translate(612.4 498.5)"><rect width="54.4" height="34" fill="#fefefe" stroke="#d2d2d2" stroke-width="0.9"/><g filter="url(#b3)"><path d="M10 1 H43 V11 Q43 14.2 40 14.2 H13 Q10 14.2 10 11 Z" fill="url(#camw)"/><path d="M10 9 H43 V11.6 Q43 14.2 40 14.2 H13 Q10 14.2 10 11.6 Z" fill="#e2e2e2"/><path d="M12 14 H41.4 Q41.8 26 34 31 Q26.6 34.6 19.4 31 Q11.6 26 12 14 Z" fill="url(#camb)"/><path d="M11.4 14 H42" stroke="#2a2a2a" stroke-width="1"/><circle cx="26.5" cy="24.6" r="4.6" fill="#2b2b2d"/><circle cx="26.5" cy="24.6" r="2.6" fill="#55585c"/><circle cx="26.5" cy="24.6" r="1.1" fill="#8a8e94"/><rect x="26" y="5.6" width="1.6" height="1.2" fill="#b0b0b0"/></g></g>
<g transform="translate(603.7 546.6)"><clipPath id="cp3"><rect width="72" height="38.7" rx="1.8"/></clipPath><g clip-path="url(#cp3)"><g transform="scale(0.08203) translate(-65 -78)" filter="url(#bp)"><rect x="0" y="0" width="1010" height="640" fill="#e7e3e3"/><rect x="0" y="60" width="1010" height="42" fill="#c6c2c2"/><rect x="60" y="78" width="62" height="322" fill="#efecec"/><rect x="72" y="215" width="30" height="127" fill="#5a5858"/><rect x="112" y="240" width="64" height="162" fill="#f6f6f6"/><rect x="130" y="255" width="30" height="35" fill="#d8d8d8"/><rect x="380" y="180" width="260" height="124" fill="#f6f6f8"/><rect x="640" y="186" width="30" height="116" fill="#3a383a"/><rect x="766" y="212" width="52" height="50" fill="#c4acb4"/><ellipse cx="828" cy="118" rx="14" ry="12" fill="#8a8a8a"/><ellipse cx="515" cy="125" rx="22" ry="8" fill="#c8c4c4"/><rect x="180" y="312" width="770" height="86" fill="#5a8c70"/><rect x="60" y="400" width="890" height="160" fill="#dad6d2"/><rect x="216" y="320" width="52" height="52" fill="#20201f" rx="8"/><ellipse cx="115" cy="455" rx="42" ry="72" fill="#474446"/><rect x="70" y="480" width="90" height="45" fill="#3c3a3c"/><ellipse cx="562" cy="256" rx="20" ry="20" fill="#2c2a2c"/><rect x="528" y="280" width="74" height="122" fill="#f2f0ea" rx="14"/><ellipse cx="492" cy="352" rx="26" ry="30" fill="#222022"/><ellipse cx="602" cy="348" rx="26" ry="30" fill="#242224"/><ellipse cx="560" cy="352" rx="20" ry="24" fill="#e8e8c2"/><ellipse cx="500" cy="415" rx="40" ry="36" fill="#4aa858"/><ellipse cx="610" cy="410" rx="50" ry="44" fill="#2a2628"/><ellipse cx="400" cy="425" rx="62" ry="94" fill="#2b2126"/><ellipse cx="712" cy="432" rx="70" ry="88" fill="#2a2226"/><ellipse cx="450" cy="490" rx="26" ry="20" fill="#e8b8c0"/><ellipse cx="540" cy="535" rx="30" ry="22" fill="#3cb24a"/><ellipse cx="370" cy="525" rx="150" ry="36" fill="#222024"/><ellipse cx="705" cy="540" rx="128" ry="46" fill="#f2ecec"/><ellipse cx="895" cy="425" rx="50" ry="78" fill="#dcebe4"/><ellipse cx="915" cy="330" rx="28" ry="26" fill="#1e1e20"/><ellipse cx="865" cy="470" rx="40" ry="62" fill="#343234"/><ellipse cx="930" cy="500" rx="20" ry="40" fill="#e6f0ec"/></g></g></g>
<path d="M695.3 512.2 C691.7 517.6 689.9 527.32 690.7 540.28 C691.5 552.16 692.9 560.8 689.3 566.2 C692.9 571.6 691.5 580.24 690.7 592.12 C689.9 605.08 691.7 614.8 695.3 620.2" fill="none" stroke="#d6d8dc" stroke-width="1.5" stroke-linecap="round" filter="url(#b5)"/>
<g transform="translate(703 514.1)" filter="url(#b3)"><rect width="32" height="10.6" rx="1.8" fill="#0b0b0b"/><path d="M5 6.4 h5 M12 5.2 h9 M7 3.4 h4 M14 7.2 h12 M22 4.6 h6" stroke="#8f9a90" stroke-width="0.6" fill="none"/></g>
<g transform="translate(703 528.9)" filter="url(#b3)"><rect width="32" height="12" rx="1" fill="#fdfdfd" stroke="#d8d0d0" stroke-width="0.5" stroke-dasharray="1 1"/><path d="M3 2 h26 M6 4.2 h21 M3 6.4 h24" stroke="#9a8f95" stroke-width="0.7" fill="none" stroke-dasharray="2.4 0.8"/><path d="M5 8.6 h22 M4 10.6 h23" stroke="#6f6f78" stroke-width="0.7" fill="none" stroke-dasharray="1.8 0.7"/></g>
<g transform="translate(703 545.45)" filter="url(#b3)"><rect width="32" height="10.6" fill="#f2f4f4"/><rect x="0.60" y="0.20" width="5.6" height="2.4" rx="0.5" fill="#101416"/><rect x="6.90" y="0.20" width="5.6" height="2.4" rx="0.5" fill="#101416"/><rect x="13.20" y="0.20" width="5.6" height="2.4" rx="0.5" fill="#101416"/><rect x="19.50" y="0.20" width="5.6" height="2.4" rx="0.5" fill="#101416"/><rect x="25.80" y="0.20" width="5.6" height="2.4" rx="0.5" fill="#101416"/><rect x="0.60" y="4.15" width="5.6" height="2.4" rx="0.5" fill="#101416"/><rect x="6.90" y="4.15" width="5.6" height="2.4" rx="0.5" fill="#101416"/><rect x="13.20" y="4.15" width="5.6" height="2.4" rx="0.5" fill="#101416"/><rect x="19.50" y="4.15" width="5.6" height="2.4" rx="0.5" fill="#101416"/><rect x="25.80" y="4.15" width="5.6" height="2.4" rx="0.5" fill="#101416"/><rect x="0.60" y="8.10" width="5.6" height="2.4" rx="0.5" fill="#101416"/><rect x="6.90" y="8.10" width="5.6" height="2.4" rx="0.5" fill="#101416"/><rect x="13.20" y="8.10" width="5.6" height="2.4" rx="0.5" fill="#101416"/><rect x="19.50" y="8.10" width="5.6" height="2.4" rx="0.5" fill="#101416"/><rect x="25.80" y="8.10" width="5.6" height="2.4" rx="0.5" fill="#101416"/></g>
<g transform="translate(703 560.4)" filter="url(#b3)"><rect width="32" height="11.4" rx="1" fill="#fefefe" stroke="#ececec" stroke-width="0.4"/><rect x="1.2" y="2" width="4" height="3" rx="0.6" fill="none" stroke="#8fc8c0" stroke-width="0.5"/><path d="M3.2 7 l-2 1.6 h4 z" fill="none" stroke="#d8a0a0" stroke-width="0.5"/><path d="M7 1.8 h15 M7 3.8 h8 M7 7.6 h12 M7 9.6 h9" stroke="#a8b0b4" stroke-width="0.7" fill="none"/><path d="M28 2 h3 M28 8.6 h3" stroke="#c0c4c8" stroke-width="0.6"/></g>
<g transform="translate(703 576.6)" filter="url(#b3)"><rect width="32" height="11" rx="1" fill="#fbfbfb" stroke="#ececec" stroke-width="0.4"/><path d="M1.5 1.5 h5 M1.5 4 h8 M1.5 6.4 h7 M1.5 8.8 h9" stroke="#d0d4d6" stroke-width="0.7" fill="none"/><path d="M13 0.8 V10.2 M18.5 0.8 V10.2 M24.5 0.8 V10.2 M12 3.6 H31 M12 7 H31" stroke="#e4e6e8" stroke-width="0.6" fill="none"/></g>
<g transform="translate(703 593.35)" filter="url(#b3)"><rect width="32" height="10.8" rx="1" fill="#fefefe"/><path d="M0.8 1.6 h5.6 M0.8 5 h4 M0.8 8.6 h3" stroke="#7f878c" stroke-width="0.9" fill="none"/><path d="M11 1.6 h8 M11 5 h4 M11 8.6 h9" stroke="#d4d8da" stroke-width="0.7" fill="none"/><circle cx="27.6" cy="5.8" r="3.6" fill="none" stroke="#9fd2c4" stroke-width="0.8"/><circle cx="27.6" cy="5.8" r="1.5" fill="none" stroke="#9fd2c4" stroke-width="0.6"/></g>
<g transform="translate(703 609.05)" filter="url(#b3)"><rect width="32" height="9.4" rx="1" fill="#fefefe"/><circle cx="2" cy="2.2" r="1.3" fill="#7a4a40"/><circle cx="2" cy="7" r="1.3" fill="#c8a640"/><path d="M6 1.6 h9 M6 6.4 h10" stroke="#6a6a72" stroke-width="0.8" fill="none"/><path d="M6 3.4 h6 M6 8.2 h7" stroke="#c4c8cc" stroke-width="0.6" fill="none"/><rect x="26" y="1" width="4.6" height="2" rx="0.5" fill="none" stroke="#d0d4d8" stroke-width="0.4"/><rect x="26" y="6" width="4.6" height="2" rx="0.5" fill="none" stroke="#d0d4d8" stroke-width="0.4"/></g>
<text x="737.7" y="520.1" font-family="'Liberation Serif','Noto Serif CJK SC',serif" font-size="4.5" fill="#525252" text-anchor="start" dominant-baseline="central" font-weight="500"  textLength="11.6" lengthAdjust="spacingAndGlyphs">板书</text>
<text x="737.7" y="535.6" font-family="'Liberation Serif','Noto Serif CJK SC',serif" font-size="4.5" fill="#525252" text-anchor="start" dominant-baseline="central" font-weight="500"  textLength="11.6" lengthAdjust="spacingAndGlyphs">批注</text>
<text x="737.7" y="551.45" font-family="'Liberation Serif','Noto Serif CJK SC',serif" font-size="4.5" fill="#525252" text-anchor="start" dominant-baseline="central" font-weight="500"  textLength="11.6" lengthAdjust="spacingAndGlyphs">选课</text>
<text x="737.7" y="566.8" font-family="'Liberation Serif','Noto Serif CJK SC',serif" font-size="4.5" fill="#525252" text-anchor="start" dominant-baseline="central" font-weight="500"  textLength="11.6" lengthAdjust="spacingAndGlyphs">作业</text>
<text x="737.7" y="582.8" font-family="'Liberation Serif','Noto Serif CJK SC',serif" font-size="4.5" fill="#525252" text-anchor="start" dominant-baseline="central" font-weight="500"  textLength="11.6" lengthAdjust="spacingAndGlyphs">课件</text>
<text x="737.7" y="599.45" font-family="'Liberation Serif','Noto Serif CJK SC',serif" font-size="4.5" fill="#525252" text-anchor="start" dominant-baseline="central" font-weight="500"  textLength="11.6" lengthAdjust="spacingAndGlyphs">测试</text>
<text x="737.7" y="614.45" font-family="'Liberation Serif','Noto Serif CJK SC',serif" font-size="4.5" fill="#525252" text-anchor="start" dominant-baseline="central" font-weight="500"  textLength="11.6" lengthAdjust="spacingAndGlyphs">通知</text>
<path d="M1006.2 487.3 H770.2" fill="none" stroke="#eefaf8" stroke-width="2.4"/>
<path d="M770.2 487.3 V628" fill="none" stroke="#e4f8fc" stroke-width="2.6"/>
<path d="M1006.2 487.3 V628" fill="none" stroke="#e6f8fc" stroke-width="2.6"/>
<path d="M770.2 487.3 H1006.2" fill="none" stroke="#5f857e" stroke-width="0.95" stroke-dasharray="2.1 1.8"/>
<path d="M770.2 628 H1006.2" fill="none" stroke="#a9c6bd" stroke-width="1" stroke-dasharray="2.1 1.8"/>
<path d="M770.2 487.3 V628" fill="none" stroke="#4f929c" stroke-width="1.25" stroke-dasharray="1.6 1.65"/>
<path d="M1006.2 487.3 V628" fill="none" stroke="#4f929c" stroke-width="1.1" stroke-dasharray="1.6 1.55"/>
<g transform="translate(790.5 513.8)" filter="url(#b3)"><rect width="32" height="13.6" rx="1.6" fill="#dde1e2"/><rect x="1.4" y="0.3" width="11.4" height="13.0" fill="#3b6db6"/><rect x="3.6" y="0.3" width="1.2" height="13.0" fill="#5b8ad0"/><rect x="7.4" y="0.3" width="1.2" height="13.0" fill="#2f5ea6"/><rect x="10.4" y="0.3" width="1" height="13.0" fill="#5b8ad0"/><rect x="14" y="1.2" width="17" height="2.4" fill="#eef0f0"/><rect x="14" y="5.4" width="17" height="1.6" fill="#c9cfd1"/><rect x="14" y="9.2" width="17" height="1.8" fill="#cfd4d6"/></g>
<g transform="translate(790.5 532.15)" filter="url(#b3)"><rect width="32" height="13.6" rx="1.6" fill="#dfa135"/><rect x="11" y="0.5" width="1.1" height="12.6" fill="#c98a25"/><rect x="15" y="0.5" width="1.1" height="12.6" fill="#c98a25"/><rect x="19" y="0.5" width="1.1" height="12.6" fill="#c98a25"/><rect x="23" y="0.5" width="1.1" height="12.6" fill="#c98a25"/><rect x="27" y="0.5" width="1.1" height="12.6" fill="#c98a25"/><polygon points="0.6,8.6 12,3.4 17.6,5.6 6.6,13 0.6,13" fill="#30303c"/><polygon points="5,7.4 13,4.2 15.6,5.4 7.8,8.8" fill="#8a96b0"/></g>
<g transform="translate(790.5 550.5)" filter="url(#b3)"><rect width="32" height="13.6" rx="1.6" fill="#e8dfc8"/><rect x="4.6" y="2.6" width="20" height="8.6" fill="#fbfbf8" stroke="#cfc6ae" stroke-width="0.5"/><rect x="10.4" y="5.8" width="8.6" height="2" fill="#3c93dc"/><rect x="25.8" y="3.6" width="1.6" height="5.2" fill="#15151a"/><rect x="12" y="0.8" width="6" height="0.9" fill="#b8ad90"/></g>
<g transform="translate(790.5 568.85)" filter="url(#b3)"><rect width="32" height="13.6" rx="1.6" fill="#e9eef2"/><path d="M8.4 5.8 L25.5 7.2 M12.6 1.2 V6.2 M21.6 0.8 V6.8 M11 10.5 V13" stroke="#9aa6b0" stroke-width="0.8" fill="none"/><rect x="30.3" y="2" width="1" height="10" fill="#cfd6dc"/></g>
<g transform="translate(790.5 587.2)" filter="url(#b3)"><rect width="32" height="13.6" rx="1.6" fill="#dfe4e3"/><path d="M15 9 Q22 1.5 31 3.2 M14 11.5 Q23 7.5 31.4 9.4 M9.5 0.8 V8" stroke="#b4bcbc" stroke-width="1.4" fill="none"/><ellipse cx="22.5" cy="9.6" rx="7" ry="1.8" fill="#eef1f0"/><rect x="2" y="9" width="6.4" height="3.8" fill="#3f80c4"/></g>
<g transform="translate(790.5 605.55)" filter="url(#b3)"><rect width="32" height="13.6" rx="1.6" fill="#e5e8e8"/><rect x="11.8" y="0.8" width="8.4" height="12.2" fill="#2a241e"/><rect x="13.2" y="2" width="5.6" height="9.8" fill="#3a3026"/></g>
<text x="776.4" y="521.7" font-family="'Liberation Serif','Noto Serif CJK SC',serif" font-size="4.5" fill="#525252" text-anchor="start" dominant-baseline="central" font-weight="500"  textLength="10.8" lengthAdjust="spacingAndGlyphs">窗帘</text>
<text x="776.4" y="540.05" font-family="'Liberation Serif','Noto Serif CJK SC',serif" font-size="4.5" fill="#525252" text-anchor="start" dominant-baseline="central" font-weight="500"  textLength="10.8" lengthAdjust="spacingAndGlyphs">空调</text>
<text x="776.4" y="555.7" font-family="'Liberation Serif','Noto Serif CJK SC',serif" font-size="4.5" fill="#525252" text-anchor="start" dominant-baseline="central" font-weight="500"  textLength="10.8" lengthAdjust="spacingAndGlyphs">教学</text>
<text x="776.4" y="560.9" font-family="'Liberation Serif','Noto Serif CJK SC',serif" font-size="4.5" fill="#525252" text-anchor="start" dominant-baseline="central" font-weight="500"  textLength="10.8" lengthAdjust="spacingAndGlyphs">设备</text>
<text x="776.4" y="576.75" font-family="'Liberation Serif','Noto Serif CJK SC',serif" font-size="4.5" fill="#525252" text-anchor="start" dominant-baseline="central" font-weight="500"  textLength="5.4" lengthAdjust="spacingAndGlyphs">灯</text>
<text x="776.4" y="595.1" font-family="'Liberation Serif','Noto Serif CJK SC',serif" font-size="4.5" fill="#525252" text-anchor="start" dominant-baseline="central" font-weight="500"  textLength="10.8" lengthAdjust="spacingAndGlyphs">风扇</text>
<text x="776.4" y="613.45" font-family="'Liberation Serif','Noto Serif CJK SC',serif" font-size="4.5" fill="#525252" text-anchor="start" dominant-baseline="central" font-weight="500"  textLength="5.4" lengthAdjust="spacingAndGlyphs">门</text>
<path d="M831.8 513 C835.4 518.4 837.2 528.12 836.4 541.08 C835.6 552.96 834.2 561.6 837.8 567 C834.2 572.4 835.6 581.04 836.4 592.92 C837.2 605.88 835.4 615.6 831.8 621" fill="none" stroke="#d6d8dc" stroke-width="1.5" stroke-linecap="round" filter="url(#b5)"/>
<g transform="translate(860.3 498.4)"><rect width="54.4" height="34" fill="#fefefe" stroke="#d2d2d2" stroke-width="0.9"/><g filter="url(#b3)"><path d="M10 1 H43 V11 Q43 14.2 40 14.2 H13 Q10 14.2 10 11 Z" fill="url(#camw)"/><path d="M10 9 H43 V11.6 Q43 14.2 40 14.2 H13 Q10 14.2 10 11.6 Z" fill="#e2e2e2"/><path d="M12 14 H41.4 Q41.8 26 34 31 Q26.6 34.6 19.4 31 Q11.6 26 12 14 Z" fill="url(#camb)"/><path d="M11.4 14 H42" stroke="#2a2a2a" stroke-width="1"/><circle cx="26.5" cy="24.6" r="4.6" fill="#2b2b2d"/><circle cx="26.5" cy="24.6" r="2.6" fill="#55585c"/><circle cx="26.5" cy="24.6" r="1.1" fill="#8a8e94"/><rect x="26" y="5.6" width="1.6" height="1.2" fill="#b0b0b0"/></g></g>
<g transform="translate(852 539.8)"><clipPath id="cp4"><rect width="71.8" height="38.6" rx="1.8"/></clipPath><g clip-path="url(#cp4)"><g transform="scale(0.08203) translate(-65 -68)" filter="url(#bp)"><rect x="0" y="0" width="1010" height="640" fill="#e7e3e1"/><rect x="0" y="50" width="1010" height="62" fill="#c9c7c3"/><rect x="60" y="68" width="52" height="272" fill="#b4b2ae"/><rect x="140" y="168" width="62" height="164" fill="#fafafa"/><rect x="202" y="150" width="40" height="192" fill="#8a8886"/><rect x="250" y="180" width="50" height="150" fill="#f2f0ee"/><rect x="318" y="142" width="404" height="34" fill="#f0c4c4"/><rect x="474" y="138" width="78" height="44" fill="#dc2c34"/><ellipse cx="334" cy="158" rx="11" ry="13" fill="#cc3048"/><ellipse cx="376" cy="158" rx="11" ry="13" fill="#cc3048"/><ellipse cx="418" cy="158" rx="11" ry="13" fill="#cc3048"/><ellipse cx="460" cy="158" rx="11" ry="13" fill="#cc3048"/><ellipse cx="586" cy="158" rx="11" ry="13" fill="#cc3048"/><ellipse cx="628" cy="158" rx="11" ry="13" fill="#cc3048"/><ellipse cx="670" cy="158" rx="11" ry="13" fill="#cc3048"/><ellipse cx="712" cy="158" rx="11" ry="13" fill="#cc3048"/><rect x="420" y="200" width="380" height="130" fill="#eeeceb"/><rect x="505" y="200" width="55" height="15" fill="#a8a6a4"/><rect x="826" y="190" width="30" height="162" fill="#6c5c56"/><rect x="900" y="68" width="50" height="282" fill="#a09e9a"/><rect x="860" y="200" width="40" height="130" fill="#f0eeec"/><rect x="60" y="335" width="890" height="225" fill="#5a5658"/><rect x="230" y="330" width="330" height="22" fill="#9ac08c" opacity="0.8"/><ellipse cx="120" cy="400" rx="60" ry="40" fill="#6e6c6e"/><ellipse cx="110" cy="500" rx="40" ry="42" fill="#2c2a2e"/><ellipse cx="180" cy="455" rx="50" ry="40" fill="#8a8688"/><ellipse cx="275" cy="380" rx="40" ry="26" fill="#ecebea"/><ellipse cx="232" cy="420" rx="36" ry="24" fill="#3e8a62"/><ellipse cx="360" cy="364" rx="44" ry="18" fill="#3f8c64"/><ellipse cx="385" cy="410" rx="40" ry="24" fill="#f0eeee"/><ellipse cx="470" cy="432" rx="40" ry="26" fill="#2c4a3c"/><ellipse cx="245" cy="505" rx="92" ry="36" fill="#e9a2bc"/><ellipse cx="455" cy="512" rx="92" ry="32" fill="#e02e48"/><ellipse cx="540" cy="462" rx="40" ry="26" fill="#e2668a"/><ellipse cx="330" cy="455" rx="40" ry="30" fill="#4a3a3e"/><ellipse cx="592" cy="292" rx="20" ry="22" fill="#2c2426"/><path d="M575 320 Q610 300 650 330 L645 500 L585 505 Z" fill="#2a3846"/><ellipse cx="620" cy="262" rx="12" ry="22" fill="#3a3436"/><ellipse cx="728" cy="400" rx="50" ry="50" fill="#e0567a"/><ellipse cx="770" cy="492" rx="46" ry="42" fill="#d8502c"/><ellipse cx="800" cy="432" rx="40" ry="30" fill="#f2eef0"/><ellipse cx="735" cy="352" rx="22" ry="20" fill="#2a2224"/><ellipse cx="905" cy="470" rx="44" ry="40" fill="#3f8f66"/><ellipse cx="900" cy="520" rx="40" ry="28" fill="#1e1e22"/><ellipse cx="860" cy="405" rx="30" ry="30" fill="#3a3638"/><ellipse cx="680" cy="470" rx="24" ry="50" fill="#8a3a4a"/><ellipse cx="820" cy="350" rx="26" ry="16" fill="#f4d8e0"/><ellipse cx="600" cy="525" rx="30" ry="16" fill="#d8d2cc"/></g></g></g>
<g transform="translate(851.9 583.6)"><rect width="71.8" height="36" fill="#fefefe" stroke="#cfcfcf" stroke-width="0.8"/><g filter="url(#b3)"><rect x="1.4" y="1.8" width="12.6" height="6" rx="0.8" fill="#1c1c4a"/><rect x="3" y="3.2" width="8" height="3" fill="#c8323c"/><rect x="11" y="3.2" width="2" height="3" fill="#5a6ac8"/><rect x="3.4" y="9" width="8" height="1" fill="#55555a"/><polygon points="27,3.4 46,3.4 49.4,7 25.4,7" fill="#cfd6dc"/><rect x="25.4" y="7" width="24" height="1.8" fill="#8e989f"/><rect x="50.5" y="4.6" width="11" height="2.2" fill="#4a4a4e"/><path d="M16 14 V18 M38.6 9 V18 M61 14 V18" stroke="#9a9a9a" stroke-width="0.6"/><rect x="7" y="18" width="18" height="14.2" fill="#fff" stroke="#d0d0d0" stroke-width="0.6"/><rect x="29.6" y="18" width="18.4" height="14.2" fill="#fff" stroke="#d0d0d0" stroke-width="0.6"/><rect x="52.6" y="18" width="18.4" height="14.2" fill="#fff" stroke="#d0d0d0" stroke-width="0.6"/><circle cx="16" cy="23.6" r="3" fill="#3a3a3e"/><circle cx="16" cy="23.6" r="1.2" fill="#9a9aa0"/><rect x="12.2" y="27" width="7.6" height="1.8" rx="0.8" fill="#2a2a2e"/><rect x="31.6" y="26.4" width="11" height="1.8" fill="#1e1e22"/><rect x="35.4" y="22" width="1.6" height="4.6" fill="#2a2a2e"/><rect x="38.6" y="20.6" width="1.2" height="6" fill="#2a2a2e"/><polygon points="56.4,25 61,22.4 68,22.8 66,26.8 58,27" fill="#4a4a50"/><rect x="60.5" y="23.4" width="5" height="1" fill="#a8a8b0"/><rect x="11.4" y="33.4" width="9" height="1" fill="#6a6a6e"/><rect x="35" y="33.4" width="8" height="1" fill="#6a6a6e"/><rect x="57.6" y="33.4" width="8" height="1" fill="#6a6a6e"/></g></g>
<path d="M792.4 565.6 H820.2" stroke="#6a6a6a" stroke-width="0.6" stroke-dasharray="1.4 1 2.6 0.8 0.8 0.8" fill="none"/>
<text x="889" y="623.2" font-family="'Liberation Serif','Noto Serif CJK SC',serif" font-size="4.8" fill="#525252" text-anchor="middle" dominant-baseline="central" font-weight="500"  textLength="21.6" lengthAdjust="spacingAndGlyphs">录播设备</text>
<path d="M944.2 505 C940.6 510.85 938.8 521.38 939.6 535.42 C940.4 548.29 941.8 557.65 938.2 563.5 C941.8 569.35 940.4 578.71 939.6 591.58 C938.8 605.62 940.6 616.15 944.2 622" fill="none" stroke="#d6d8dc" stroke-width="1.5" stroke-linecap="round" filter="url(#b5)"/>
<g transform="translate(950.3 496.9)" filter="url(#b3)"><rect width="32" height="10.6" rx="1.8" fill="#0b0b0b"/><path d="M5 6.4 h5 M12 5.2 h9 M7 3.4 h4 M14 7.2 h12 M22 4.6 h6" stroke="#8f9a90" stroke-width="0.6" fill="none"/></g>
<g transform="translate(950.3 511.7)" filter="url(#b3)"><rect width="32" height="12" rx="1" fill="#fdfdfd" stroke="#d8d0d0" stroke-width="0.5" stroke-dasharray="1 1"/><path d="M3 2 h26 M6 4.2 h21 M3 6.4 h24" stroke="#9a8f95" stroke-width="0.7" fill="none" stroke-dasharray="2.4 0.8"/><path d="M5 8.6 h22 M4 10.6 h23" stroke="#6f6f78" stroke-width="0.7" fill="none" stroke-dasharray="1.8 0.7"/></g>
<g transform="translate(950.3 528.2)" filter="url(#b3)"><rect width="32" height="10.6" fill="#f2f4f4"/><rect x="0.60" y="0.20" width="5.6" height="2.4" rx="0.5" fill="#101416"/><rect x="6.90" y="0.20" width="5.6" height="2.4" rx="0.5" fill="#101416"/><rect x="13.20" y="0.20" width="5.6" height="2.4" rx="0.5" fill="#101416"/><rect x="19.50" y="0.20" width="5.6" height="2.4" rx="0.5" fill="#101416"/><rect x="25.80" y="0.20" width="5.6" height="2.4" rx="0.5" fill="#101416"/><rect x="0.60" y="4.15" width="5.6" height="2.4" rx="0.5" fill="#101416"/><rect x="6.90" y="4.15" width="5.6" height="2.4" rx="0.5" fill="#101416"/><rect x="13.20" y="4.15" width="5.6" height="2.4" rx="0.5" fill="#101416"/><rect x="19.50" y="4.15" width="5.6" height="2.4" rx="0.5" fill="#101416"/><rect x="25.80" y="4.15" width="5.6" height="2.4" rx="0.5" fill="#101416"/><rect x="0.60" y="8.10" width="5.6" height="2.4" rx="0.5" fill="#101416"/><rect x="6.90" y="8.10" width="5.6" height="2.4" rx="0.5" fill="#101416"/><rect x="13.20" y="8.10" width="5.6" height="2.4" rx="0.5" fill="#101416"/><rect x="19.50" y="8.10" width="5.6" height="2.4" rx="0.5" fill="#101416"/><rect x="25.80" y="8.10" width="5.6" height="2.4" rx="0.5" fill="#101416"/></g>
<g transform="translate(950.3 543.8)" filter="url(#b3)"><rect width="32" height="11.4" rx="1" fill="#fefefe" stroke="#ececec" stroke-width="0.4"/><rect x="1.2" y="2" width="4" height="3" rx="0.6" fill="none" stroke="#8fc8c0" stroke-width="0.5"/><path d="M3.2 7 l-2 1.6 h4 z" fill="none" stroke="#d8a0a0" stroke-width="0.5"/><path d="M7 1.8 h15 M7 3.8 h8 M7 7.6 h12 M7 9.6 h9" stroke="#a8b0b4" stroke-width="0.7" fill="none"/><path d="M28 2 h3 M28 8.6 h3" stroke="#c0c4c8" stroke-width="0.6"/></g>
<g transform="translate(950.3 559.7)" filter="url(#b3)"><rect width="32" height="11" rx="1" fill="#fbfbfb" stroke="#ececec" stroke-width="0.4"/><path d="M1.5 1.5 h5 M1.5 4 h8 M1.5 6.4 h7 M1.5 8.8 h9" stroke="#d0d4d6" stroke-width="0.7" fill="none"/><path d="M13 0.8 V10.2 M18.5 0.8 V10.2 M24.5 0.8 V10.2 M12 3.6 H31 M12 7 H31" stroke="#e4e6e8" stroke-width="0.6" fill="none"/></g>
<g transform="translate(950.3 575.8)" filter="url(#b3)"><rect width="32" height="10.8" rx="1" fill="#fefefe"/><path d="M0.8 1.6 h5.6 M0.8 5 h4 M0.8 8.6 h3" stroke="#7f878c" stroke-width="0.9" fill="none"/><path d="M11 1.6 h8 M11 5 h4 M11 8.6 h9" stroke="#d4d8da" stroke-width="0.7" fill="none"/><circle cx="27.6" cy="5.8" r="3.6" fill="none" stroke="#9fd2c4" stroke-width="0.8"/><circle cx="27.6" cy="5.8" r="1.5" fill="none" stroke="#9fd2c4" stroke-width="0.6"/></g>
<g transform="translate(950.3 592.3)" filter="url(#b3)"><rect width="32" height="9.4" rx="1" fill="#fefefe"/><circle cx="2" cy="2.2" r="1.3" fill="#7a4a40"/><circle cx="2" cy="7" r="1.3" fill="#c8a640"/><path d="M6 1.6 h9 M6 6.4 h10" stroke="#6a6a72" stroke-width="0.8" fill="none"/><path d="M6 3.4 h6 M6 8.2 h7" stroke="#c4c8cc" stroke-width="0.6" fill="none"/><rect x="26" y="1" width="4.6" height="2" rx="0.5" fill="none" stroke="#d0d4d8" stroke-width="0.4"/><rect x="26" y="6" width="4.6" height="2" rx="0.5" fill="none" stroke="#d0d4d8" stroke-width="0.4"/></g>
<text x="985" y="502.9" font-family="'Liberation Serif','Noto Serif CJK SC',serif" font-size="4.5" fill="#525252" text-anchor="start" dominant-baseline="central" font-weight="500"  textLength="11.6" lengthAdjust="spacingAndGlyphs">板书</text>
<text x="985" y="518.4" font-family="'Liberation Serif','Noto Serif CJK SC',serif" font-size="4.5" fill="#525252" text-anchor="start" dominant-baseline="central" font-weight="500"  textLength="11.6" lengthAdjust="spacingAndGlyphs">批注</text>
<text x="985" y="534.2" font-family="'Liberation Serif','Noto Serif CJK SC',serif" font-size="4.5" fill="#525252" text-anchor="start" dominant-baseline="central" font-weight="500"  textLength="11.6" lengthAdjust="spacingAndGlyphs">选课</text>
<text x="985" y="550.2" font-family="'Liberation Serif','Noto Serif CJK SC',serif" font-size="4.5" fill="#525252" text-anchor="start" dominant-baseline="central" font-weight="500"  textLength="11.6" lengthAdjust="spacingAndGlyphs">作业</text>
<text x="985" y="565.9" font-family="'Liberation Serif','Noto Serif CJK SC',serif" font-size="4.5" fill="#525252" text-anchor="start" dominant-baseline="central" font-weight="500"  textLength="11.6" lengthAdjust="spacingAndGlyphs">课件</text>
<text x="985" y="581.9" font-family="'Liberation Serif','Noto Serif CJK SC',serif" font-size="4.5" fill="#525252" text-anchor="start" dominant-baseline="central" font-weight="500"  textLength="11.6" lengthAdjust="spacingAndGlyphs">测试</text>
<text x="985" y="597.7" font-family="'Liberation Serif','Noto Serif CJK SC',serif" font-size="4.5" fill="#525252" text-anchor="start" dominant-baseline="central" font-weight="500"  textLength="11.6" lengthAdjust="spacingAndGlyphs">通知</text>
<g transform="translate(950.3 608.4)" filter="url(#b3)"><rect width="52" height="10" rx="1" fill="#fefefe" stroke="#e2e2e2" stroke-width="0.5"/><rect x="2" y="2" width="3" height="4" fill="#2a2a2e"/><path d="M6 3 h16 M25 3 h5 M33 3 h15" stroke="#1e1e22" stroke-width="1.3" stroke-dasharray="1.6 0.5"/><path d="M3 7 h10" stroke="#9a9aa0" stroke-width="0.6"/></g>
<text x="952.3" y="622.4" font-family="'Liberation Serif','Noto Serif CJK SC',serif" font-size="5" fill="#525252" text-anchor="start" dominant-baseline="central" font-weight="500"  textLength="29" lengthAdjust="spacingAndGlyphs">录直播课程</text>
<line x1="176.8" y1="469.8" x2="74.6" y2="498.1" stroke="#8c8c8c" stroke-width="0.8" />
<line x1="74.6" y1="498.1" x2="77.15" y2="495.01" stroke="#8c8c8c" stroke-width="0.8" stroke-linecap="round"/>
<text x="127.4" y="479.3" font-family="'Liberation Serif','Noto Serif CJK SC',serif" font-size="5" fill="#555" text-anchor="middle" dominant-baseline="central" font-weight="500" transform="rotate(-15.5 127.4 479.3)"  textLength="23" lengthAdjust="spacingAndGlyphs">查看管理</text>
<line x1="233.6" y1="476.4" x2="162.5" y2="499.6" stroke="#8c8c8c" stroke-width="0.8" />
<line x1="162.5" y1="499.6" x2="164.9" y2="496.4" stroke="#8c8c8c" stroke-width="0.8" stroke-linecap="round"/>
<text x="203.6" y="480.4" font-family="'Liberation Serif','Noto Serif CJK SC',serif" font-size="5" fill="#555" text-anchor="middle" dominant-baseline="central" font-weight="500" transform="rotate(-18 203.6 480.4)"  textLength="11.4" lengthAdjust="spacingAndGlyphs">督学</text>
<line x1="240.9" y1="479.2" x2="209.5" y2="506.7" stroke="#8c8c8c" stroke-width="0.8" />
<line x1="209.5" y1="506.7" x2="210.05" y2="503.14" stroke="#8c8c8c" stroke-width="0.8" stroke-linecap="round"/>
<line x1="212.6" y1="509.8" x2="244.7" y2="481.75" stroke="#8c8c8c" stroke-width="0.8" />
<line x1="244.7" y1="481.75" x2="244.15" y2="485.31" stroke="#8c8c8c" stroke-width="0.8" stroke-linecap="round"/>
<text x="222.1" y="491.3" font-family="'Liberation Serif','Noto Serif CJK SC',serif" font-size="5" fill="#555" text-anchor="middle" dominant-baseline="central" font-weight="500" transform="rotate(-41 222.1 491.3)"  textLength="23" lengthAdjust="spacingAndGlyphs">查看管理</text>
<text x="232" y="498.4" font-family="'Liberation Serif','Noto Serif CJK SC',serif" font-size="5" fill="#555" text-anchor="middle" dominant-baseline="central" font-weight="500" transform="rotate(-41 232 498.4)"  textLength="23" lengthAdjust="spacingAndGlyphs">数据上传</text>
<line x1="265.6" y1="480.1" x2="297.5" y2="507.5" stroke="#8c8c8c" stroke-width="0.8" />
<line x1="297.5" y1="507.5" x2="296.51" y2="503.62" stroke="#8c8c8c" stroke-width="0.8" stroke-linecap="round"/>
<text x="286.5" y="493.2" font-family="'Liberation Serif','Noto Serif CJK SC',serif" font-size="5" fill="#555" text-anchor="middle" dominant-baseline="central" font-weight="500" transform="rotate(41 286.5 493.2)"  textLength="23" lengthAdjust="spacingAndGlyphs">查看管理</text>
<line x1="275.4" y1="476.2" x2="345.7" y2="499.6" stroke="#8c8c8c" stroke-width="0.8" />
<line x1="345.7" y1="499.6" x2="343.32" y2="496.39" stroke="#8c8c8c" stroke-width="0.8" stroke-linecap="round"/>
<text x="305.3" y="481.5" font-family="'Liberation Serif','Noto Serif CJK SC',serif" font-size="5" fill="#555" text-anchor="middle" dominant-baseline="central" font-weight="500" transform="rotate(18 305.3 481.5)"  textLength="11.4" lengthAdjust="spacingAndGlyphs">督学</text>
<line x1="354.5" y1="470.2" x2="435.5" y2="491.8" stroke="#8c8c8c" stroke-width="0.8" />
<line x1="435.5" y1="491.8" x2="432.93" y2="488.74" stroke="#8c8c8c" stroke-width="0.8" stroke-linecap="round"/>
<text x="392.6" y="476.6" font-family="'Liberation Serif','Noto Serif CJK SC',serif" font-size="5" fill="#555" text-anchor="middle" dominant-baseline="central" font-weight="500" transform="rotate(15 392.6 476.6)"  textLength="23" lengthAdjust="spacingAndGlyphs">查看管理</text>
<line x1="431.6" y1="497.1" x2="350.6" y2="475.2" stroke="#8c8c8c" stroke-width="0.8" />
<line x1="350.6" y1="475.2" x2="353.16" y2="478.27" stroke="#8c8c8c" stroke-width="0.8" stroke-linecap="round"/>
<text x="386.1" y="488.9" font-family="'Liberation Serif','Noto Serif CJK SC',serif" font-size="5" fill="#555" text-anchor="middle" dominant-baseline="central" font-weight="500" transform="rotate(15 386.1 488.9)"  textLength="23" lengthAdjust="spacingAndGlyphs">数据上传</text>
<line x1="686.1" y1="469.8" x2="583.9" y2="498.1" stroke="#8c8c8c" stroke-width="0.8" />
<line x1="583.9" y1="498.1" x2="586.45" y2="495.01" stroke="#8c8c8c" stroke-width="0.8" stroke-linecap="round"/>
<text x="636.7" y="479.3" font-family="'Liberation Serif','Noto Serif CJK SC',serif" font-size="5" fill="#555" text-anchor="middle" dominant-baseline="central" font-weight="500" transform="rotate(-15.5 636.7 479.3)"  textLength="23" lengthAdjust="spacingAndGlyphs">查看管理</text>
<line x1="742.9" y1="476.4" x2="671.8" y2="499.6" stroke="#8c8c8c" stroke-width="0.8" />
<line x1="671.8" y1="499.6" x2="674.2" y2="496.4" stroke="#8c8c8c" stroke-width="0.8" stroke-linecap="round"/>
<text x="712.9" y="480.4" font-family="'Liberation Serif','Noto Serif CJK SC',serif" font-size="5" fill="#555" text-anchor="middle" dominant-baseline="central" font-weight="500" transform="rotate(-18 712.9 480.4)"  textLength="11.4" lengthAdjust="spacingAndGlyphs">督学</text>
<line x1="750.2" y1="479.2" x2="718.8" y2="506.7" stroke="#8c8c8c" stroke-width="0.8" />
<line x1="718.8" y1="506.7" x2="719.35" y2="503.14" stroke="#8c8c8c" stroke-width="0.8" stroke-linecap="round"/>
<line x1="721.9" y1="509.8" x2="754" y2="481.75" stroke="#8c8c8c" stroke-width="0.8" />
<line x1="754" y1="481.75" x2="753.45" y2="485.31" stroke="#8c8c8c" stroke-width="0.8" stroke-linecap="round"/>
<text x="731.4" y="491.3" font-family="'Liberation Serif','Noto Serif CJK SC',serif" font-size="5" fill="#555" text-anchor="middle" dominant-baseline="central" font-weight="500" transform="rotate(-41 731.4 491.3)"  textLength="23" lengthAdjust="spacingAndGlyphs">查看管理</text>
<text x="741.3" y="498.4" font-family="'Liberation Serif','Noto Serif CJK SC',serif" font-size="5" fill="#555" text-anchor="middle" dominant-baseline="central" font-weight="500" transform="rotate(-41 741.3 498.4)"  textLength="23" lengthAdjust="spacingAndGlyphs">数据上传</text>
<line x1="774.9" y1="480.1" x2="806.8" y2="507.5" stroke="#8c8c8c" stroke-width="0.8" />
<line x1="806.8" y1="507.5" x2="805.81" y2="503.62" stroke="#8c8c8c" stroke-width="0.8" stroke-linecap="round"/>
<text x="795.8" y="493.2" font-family="'Liberation Serif','Noto Serif CJK SC',serif" font-size="5" fill="#555" text-anchor="middle" dominant-baseline="central" font-weight="500" transform="rotate(41 795.8 493.2)"  textLength="23" lengthAdjust="spacingAndGlyphs">查看管理</text>
<line x1="784.7" y1="476.2" x2="855" y2="499.6" stroke="#8c8c8c" stroke-width="0.8" />
<line x1="855" y1="499.6" x2="852.62" y2="496.39" stroke="#8c8c8c" stroke-width="0.8" stroke-linecap="round"/>
<text x="814.6" y="481.5" font-family="'Liberation Serif','Noto Serif CJK SC',serif" font-size="5" fill="#555" text-anchor="middle" dominant-baseline="central" font-weight="500" transform="rotate(18 814.6 481.5)"  textLength="11.4" lengthAdjust="spacingAndGlyphs">督学</text>
<line x1="863.8" y1="470.2" x2="944.8" y2="491.8" stroke="#8c8c8c" stroke-width="0.8" />
<line x1="944.8" y1="491.8" x2="942.23" y2="488.74" stroke="#8c8c8c" stroke-width="0.8" stroke-linecap="round"/>
<text x="901.9" y="476.6" font-family="'Liberation Serif','Noto Serif CJK SC',serif" font-size="5" fill="#555" text-anchor="middle" dominant-baseline="central" font-weight="500" transform="rotate(15 901.9 476.6)"  textLength="23" lengthAdjust="spacingAndGlyphs">查看管理</text>
<line x1="940.9" y1="497.1" x2="859.9" y2="475.2" stroke="#8c8c8c" stroke-width="0.8" />
<line x1="859.9" y1="475.2" x2="862.46" y2="478.27" stroke="#8c8c8c" stroke-width="0.8" stroke-linecap="round"/>
<text x="895.4" y="488.9" font-family="'Liberation Serif','Noto Serif CJK SC',serif" font-size="5" fill="#555" text-anchor="middle" dominant-baseline="central" font-weight="500" transform="rotate(15 895.4 488.9)"  textLength="23" lengthAdjust="spacingAndGlyphs">数据上传</text>
<path d="M410.3 534.5 V494.6 H854.9 V534.5" fill="none" stroke="#f5fcf3" stroke-width="2"/>
<path d="M410.3 534.5 V494.6" fill="none" stroke="#8fd484" stroke-width="0.9" stroke-dasharray="2 1.8"/>
<path d="M854.9 494.6 V534.5" fill="none" stroke="#8fd484" stroke-width="0.9" stroke-dasharray="2 1.8"/>
<path d="M410.3 494.6 H854.9" fill="none" stroke="#bcdcb8" stroke-width="0.8" stroke-dasharray="2.1 1.8"/>
<path d="M407.7 532.4 L410.3 536.4 L412.90000000000003 532.4" fill="none" stroke="#86d27c" stroke-width="1.1"/>
<path d="M852.3 532.4 L854.9 536.4 L857.5 532.4" fill="none" stroke="#86d27c" stroke-width="1.1"/>
<text x="554.5" y="483" font-family="'Liberation Serif','Noto Serif CJK SC',serif" font-size="7.2" fill="#84d276" text-anchor="middle" dominant-baseline="central" font-weight="500"  textLength="48.4" lengthAdjust="spacingAndGlyphs">双直播+互动</text>
<path d="M128.5 636 H845.3" fill="none" stroke="#fde6ea" stroke-width="2.6"/>
<path d="M128.5 636 H845.3" fill="none" stroke="#b85c72" stroke-width="1.1" stroke-dasharray="2.2 1.55"/>
<path d="M128.5 625.4 H334.7" fill="none" stroke="#fde6ea" stroke-width="2.6"/>
<path d="M128.5 625.4 H334.7" fill="none" stroke="#b85c72" stroke-width="1.1" stroke-dasharray="2.2 1.55"/>
<path d="M418.4 625.4 H632.7" fill="none" stroke="#fde6ea" stroke-width="2.6"/>
<path d="M418.4 625.4 H632.7" fill="none" stroke="#b85c72" stroke-width="1.1" stroke-dasharray="2.2 1.55"/>
<path d="M639.2 625.4 H845.3" fill="none" stroke="#fde6ea" stroke-width="2.6"/>
<path d="M639.2 625.4 H845.3" fill="none" stroke="#b85c72" stroke-width="1.1" stroke-dasharray="2.2 1.55"/>
<path d="M334.7 562.1 H338.6" fill="none" stroke="#fde6ea" stroke-width="2.6"/>
<path d="M334.7 562.1 H338.6" fill="none" stroke="#b85c72" stroke-width="1.1" stroke-dasharray="2.2 1.55"/>
<path d="M416 562.1 H418.4" fill="none" stroke="#fde6ea" stroke-width="2.6"/>
<path d="M416 562.1 H418.4" fill="none" stroke="#b85c72" stroke-width="1.1" stroke-dasharray="2.2 1.55"/>
<path d="M845.3 562.2 H848" fill="none" stroke="#fde6ea" stroke-width="2.6"/>
<path d="M845.3 562.2 H848" fill="none" stroke="#b85c72" stroke-width="1.1" stroke-dasharray="2.2 1.55"/>
<path d="M128.5 588.5 V636" fill="none" stroke="#fde8ec" stroke-width="2.4"/>
<path d="M128.5 588.5 V636" fill="none" stroke="#c04e60" stroke-width="1" stroke-dasharray="1.6 1.8"/>
<path d="M334.7 562.1 V625.4" fill="none" stroke="#fde8ec" stroke-width="2.4"/>
<path d="M334.7 562.1 V625.4" fill="none" stroke="#c04e60" stroke-width="1" stroke-dasharray="1.6 1.8"/>
<path d="M418.4 562.1 V625.4" fill="none" stroke="#fde8ec" stroke-width="2.4"/>
<path d="M418.4 562.1 V625.4" fill="none" stroke="#c04e60" stroke-width="1" stroke-dasharray="1.6 1.8"/>
<path d="M632.7 588.5 V625.4" fill="none" stroke="#fde8ec" stroke-width="2.4"/>
<path d="M632.7 588.5 V625.4" fill="none" stroke="#c04e60" stroke-width="1" stroke-dasharray="1.6 1.8"/>
<path d="M639.2 588.5 V625.4" fill="none" stroke="#fde8ec" stroke-width="2.4"/>
<path d="M639.2 588.5 V625.4" fill="none" stroke="#c04e60" stroke-width="1" stroke-dasharray="1.6 1.8"/>
<path d="M845.3 562.2 V636" fill="none" stroke="#fde8ec" stroke-width="2.4"/>
<path d="M845.3 562.2 V636" fill="none" stroke="#c04e60" stroke-width="1" stroke-dasharray="1.6 1.8"/>
<path d="M126.8 589.4 L128.5 586.6 L130.2 589.4 Z" fill="#b8506a"/>
<path d="M631.0 589.4 L632.7 586.6 L634.4000000000001 589.4 Z" fill="#b8506a"/>
<path d="M637.5 589.4 L639.2 586.6 L640.9000000000001 589.4 Z" fill="#b8506a"/>
<path d="M843.6 622.6 L845.3 625.6 L847 622.6 Z" fill="#b8506a"/>
<text x="136.6" y="604.4" font-family="'Liberation Serif','Noto Serif CJK SC',serif" font-size="7.2" fill="#bc4452" text-anchor="middle" dominant-baseline="central" font-weight="500"  textLength="7.8" lengthAdjust="spacingAndGlyphs">直</text>
<text x="136.6" y="612.7" font-family="'Liberation Serif','Noto Serif CJK SC',serif" font-size="7.2" fill="#bc4452" text-anchor="middle" dominant-baseline="central" font-weight="500"  textLength="7.8" lengthAdjust="spacingAndGlyphs">播</text>
<text x="625" y="604.4" font-family="'Liberation Serif','Noto Serif CJK SC',serif" font-size="7.2" fill="#bc4452" text-anchor="middle" dominant-baseline="central" font-weight="500"  textLength="7.8" lengthAdjust="spacingAndGlyphs">直</text>
<text x="625" y="612.7" font-family="'Liberation Serif','Noto Serif CJK SC',serif" font-size="7.2" fill="#bc4452" text-anchor="middle" dominant-baseline="central" font-weight="500"  textLength="7.8" lengthAdjust="spacingAndGlyphs">播</text>
<text x="647.3" y="604.4" font-family="'Liberation Serif','Noto Serif CJK SC',serif" font-size="7.2" fill="#bc4452" text-anchor="middle" dominant-baseline="central" font-weight="500"  textLength="7.8" lengthAdjust="spacingAndGlyphs">直</text>
<text x="647.3" y="612.7" font-family="'Liberation Serif','Noto Serif CJK SC',serif" font-size="7.2" fill="#bc4452" text-anchor="middle" dominant-baseline="central" font-weight="500"  textLength="7.8" lengthAdjust="spacingAndGlyphs">播</text>
<text x="517.4" y="632.6" font-family="'Liberation Serif','Noto Serif CJK SC',serif" font-size="7.6" fill="#c4505a" text-anchor="middle" dominant-baseline="central" font-weight="500"  textLength="17" lengthAdjust="spacingAndGlyphs">直播</text>
</svg>
<div class="t" style="left:437px;top:180.4px;font-size:20.6px;color:#fff;font-family:'Liberation Sans','Noto Sans CJK SC',sans-serif;font-weight:500;transform:scale(0.972,1);">校级数据中心</div>
<div class="t" style="left:644.5px;top:201.9px;font-size:11.5px;color:#2a2a2a;font-family:'Liberation Sans','Noto Sans CJK SC',sans-serif;font-weight:normal;letter-spacing:0.66px;">INTERNET</div>
<div class="t" style="left:826.4px;top:160.4px;font-size:11.6px;color:#444;font-family:'Liberation Sans','Noto Sans CJK SC',sans-serif;font-weight:normal;transform:scale(1.07,1);">管理员</div>
<div class="t" style="left:826.4px;top:185.4px;font-size:11.6px;color:#444;font-family:'Liberation Sans','Noto Sans CJK SC',sans-serif;font-weight:normal;transform:scale(1.07,1);">老师</div>
<div class="t" style="left:826.4px;top:209.4px;font-size:11.6px;color:#444;font-family:'Liberation Sans','Noto Sans CJK SC',sans-serif;font-weight:normal;transform:scale(1.09,1);">学生、家长</div>
<div class="t" style="left:430.3px;top:364.8px;font-size:10.8px;color:#1a1a1a;font-family:'Liberation Sans','Noto Sans CJK SC',sans-serif;font-weight:bold;transform:scale(1.172,1);">高校综合管理大数据平台</div>
<div class="t" style="left:186.6px;top:390.7px;font-size:10.3px;color:#1a1a1a;font-family:'Liberation Sans','Noto Sans CJK SC',sans-serif;font-weight:bold;transform:scale(1.12,1);letter-spacing:1px;">教学楼<span style="font-family:'Noto Sans CJK SC',sans-serif">1</span></div>
<div class="t" style="left:785.8px;top:390.7px;font-size:10.3px;color:#1a1a1a;font-family:'Liberation Sans','Noto Sans CJK SC',sans-serif;font-weight:bold;transform:scale(1.12,1);letter-spacing:1px;">教学楼N</div>
<div class="t" style="left:86.2px;top:640.7px;font-size:10.8px;color:#1a1a1a;font-family:'Liberation Sans','Noto Sans CJK SC',sans-serif;font-weight:bold;transform:scale(1.168,1);">常态化未来教室</div>
<div class="t" style="left:334.5px;top:640.7px;font-size:10.8px;color:#1a1a1a;font-family:'Liberation Sans','Noto Sans CJK SC',sans-serif;font-weight:bold;transform:scale(1.168,1);">智能录直播教室</div>
<div class="t" style="left:595.7px;top:640.7px;font-size:10.8px;color:#1a1a1a;font-family:'Liberation Sans','Noto Sans CJK SC',sans-serif;font-weight:bold;transform:scale(1.168,1);">常态化未来教室</div>
<div class="t" style="left:843.4px;top:640.7px;font-size:10.8px;color:#1a1a1a;font-family:'Liberation Sans','Noto Sans CJK SC',sans-serif;font-weight:bold;transform:scale(1.168,1);">智能录直播教室</div>
</div>
</body>
</html>
